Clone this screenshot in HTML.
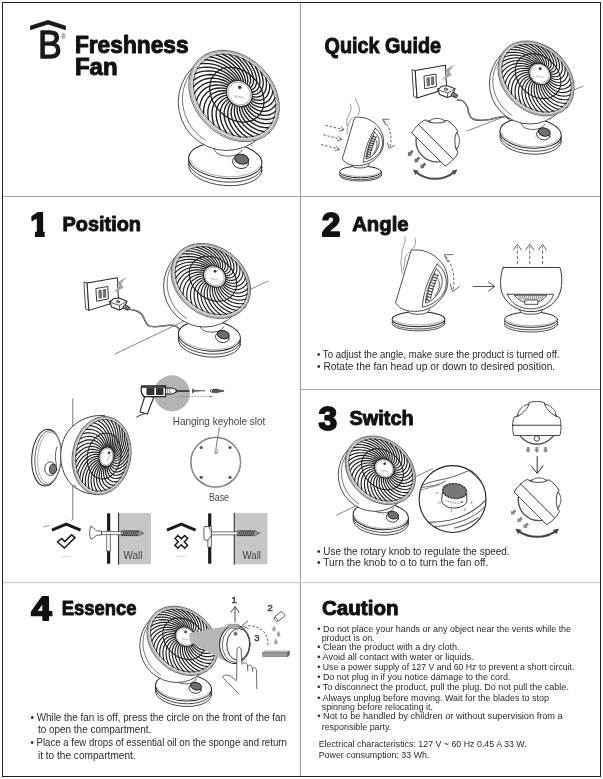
<!DOCTYPE html>
<html><head><meta charset="utf-8"><title>Freshness Fan Quick Guide</title>
<style>
html,body{margin:0;padding:0;background:#fff;}
body{width:603px;height:779px;overflow:hidden;font-family:"Liberation Sans",sans-serif;}
svg{display:block;will-change:transform;}
text{font-family:"Liberation Sans",sans-serif;}
.b{fill:#2a2a2a;}
.g{fill:#444;}
.h{font-weight:bold;fill:#111;stroke:#111;stroke-width:1.0px;stroke-linejoin:round;}
.n{font-weight:bold;fill:#111;stroke:#111;stroke-width:1.8px;stroke-linejoin:round;}
.ln{fill:none;stroke:#222;stroke-width:0.8;stroke-linecap:round;stroke-linejoin:round}
</style></head><body>
<svg width="603" height="779" viewBox="0 0 603 779">
<rect x="2.5" y="2.5" width="598" height="774" fill="#fff" stroke="#222" stroke-width="1"/>
<path d="M3 196.5H600" stroke="#a6a8ab" stroke-width="1" fill="none"/>
<path d="M300.5 3V776" stroke="#9c9ea1" stroke-width="1.1" fill="none"/>
<path d="M301 389.5H600" stroke="#aaa" stroke-width="1" fill="none"/>
<path d="M3 582.6H600" stroke="#cdcfd1" stroke-width="1.4" fill="none"/>
<g fill="none" stroke="#222" stroke-width="0.8" stroke-linecap="round" stroke-linejoin="round">
<path d="M30.1 25.8 L48.05 20 L65.8 25.8 V30.3 L48.05 24.4 L30.1 30.3 Z" fill="#1a1a1a" stroke="none"/>
<text x="37.9" y="57.9" font-size="39.2" fill="#1a1a1a" stroke="#1a1a1a" stroke-width="1.3" stroke-linejoin="round" textLength="23.8" lengthAdjust="spacingAndGlyphs">B</text>
<text x="61.2" y="38.5" font-size="6.4" fill="#333" stroke="none">®</text>
<g transform="translate(234.1 96.1)" stroke-width="0.8">
<g transform="scale(0.98)" stroke-width="0.82">
<ellipse cx="-9" cy="73" rx="37.5" ry="18.2" transform="rotate(5 -9 73)" fill="#fff"/>
<ellipse cx="-9" cy="69.4" rx="37.5" ry="18.2" transform="rotate(5 -9 69.4)" fill="#fff"/>
<ellipse cx="-9" cy="65.8" rx="37.5" ry="18.2" transform="rotate(5 -9 65.8)" fill="#fff" stroke-width="1.02"/>
<path d="M25.67 71.43 L24.82 72.87 L23.67 74.24 L22.24 75.54 L20.54 76.75 L18.58 77.86 L16.39 78.87 L13.97 79.76 L11.36 80.53 L8.57 81.17 L5.62 81.67 L2.55 82.03 L-0.62 82.25 L-3.86 82.33 L-7.14 82.25 L-10.45 82.04 L-13.74 81.68 L-16.99 81.18 L-20.17 80.54 L-23.25 79.77 L-26.21 78.89 L-29.02 77.88 L-31.66 76.77 L-34.1 75.56 L-36.32 74.26 L-38.31 72.89 L-40.04 71.45 L-41.51 69.96 L-42.69 68.43 L-43.58 66.88 L-44.18 65.32" stroke="#999"/>
<path d="M-21 52 C-20 57 -17 60 -10 61 C-2 62 6 60 8 55" stroke="#333" transform="translate(0 0)"/>
<circle cx="-7.5" cy="6" r="49.5" fill="#fff"/>
<path d="M-29.44 44.98 L-32.42 42.91 L-35.25 40.63 L-37.91 38.15 L-40.39 35.49 L-42.67 32.65 L-44.74 29.67 L-46.6 26.55 L-48.22 23.31 L-49.6 19.97 L-50.73 16.55 L-51.61 13.06 L-52.23 9.54 L-52.59 5.99 L-52.68 2.44 L-52.5 -1.1 L-52.06 -4.59 L-51.36 -8.04 L-50.4 -11.4 L-49.19 -14.67 L-47.73 -17.82 L-46.03 -20.85 L-44.11 -23.72 L-41.96 -26.44 L-39.62 -28.97 L-37.08 -31.31 L-34.36 -33.44 L-31.48 -35.35 L-28.46 -37.03 L-25.3 -38.47 L-22.03 -39.66 L-18.67 -40.6 L-15.24 -41.28 L-11.75 -41.7 L-8.23 -41.85 L-4.69 -41.74 L-1.15 -41.36 L2.36 -40.71 L5.82 -39.81 L9.22 -38.65 L12.54 -37.24 L15.76 -35.59 L18.86 -33.71 L21.82 -31.61 L24.63 -29.3 L27.26 -26.79 L29.72 -24.1 L31.97 -21.25 L34.02 -18.24 L35.84 -15.1 L37.43 -11.85" stroke="#555"/>
<ellipse cx="6.5" cy="67.6" rx="8.3" ry="6.2" transform="rotate(15 6.5 67.6)" fill="#fff"/>
<ellipse cx="7.7" cy="64.4" rx="7.3" ry="4.9" transform="rotate(15 7.7 64.4)" fill="#6e6e6e" stroke="#222" stroke-width="1.02"/>
<circle cx="-5" cy="63.7" r="0.5" fill="#666" stroke="none"/>
<circle cx="-3.5" cy="70.4" r="0.5" fill="#666" stroke="none"/>
<circle cx="3.2" cy="77.1" r="0.5" fill="#666" stroke="none"/>
<circle cx="12.2" cy="77.1" r="0.5" fill="#666" stroke="none"/>
<circle cx="16.7" cy="72.6" r="0.5" fill="#666" stroke="none"/>
<circle cx="17.5" cy="50.3" r="0.6" fill="#444" stroke="none"/>
</g>
<ellipse cx="0" cy="0" rx="51" ry="39.5" transform="rotate(46 0 0)" fill="#fff" stroke="#333" stroke-width="0.7"/>
<ellipse cx="0" cy="0" rx="49.82" ry="38.32" transform="rotate(46 0 0)" fill="#d2d2d2" stroke="#666" stroke-width="0.5"/>
<ellipse cx="0.59" cy="-0.39" rx="46.68" ry="35.38" transform="rotate(46 0.59 -0.39)" fill="#fff" stroke="#333" stroke-width="0.7"/>
<path d="M14.87 7.47 L16.86 9.8 L19.21 11.77 L21.82 13.35 L24.63 14.51 L27.6 15.16 L30.65 15.24 L33.69 14.69 L36.64 13.44 L39.36 11.44 L41.75 8.65M13.31 8.71 L15.05 11.34 L17.21 13.67 L19.69 15.68 L22.47 17.32 L25.49 18.51 L28.69 19.19 L32 19.27 L35.32 18.67 L38.55 17.34 L41.56 15.21M11.53 9.65 L12.95 12.51 L14.84 15.14 L17.13 17.53 L19.78 19.61 L22.76 21.32 L26.01 22.57 L29.48 23.29 L33.08 23.37 L36.71 22.75 L40.25 21.35M9.58 10.25 L10.62 13.27 L12.19 16.15 L14.2 18.85 L16.64 21.33 L19.48 23.51 L22.69 25.31 L26.21 26.65 L29.97 27.41 L33.89 27.53 L37.86 26.89M7.5 10.5 L8.13 13.61 L9.32 16.66 L10.99 19.61 L13.13 22.42 L15.75 25.02 L18.81 27.33 L22.27 29.25 L26.09 30.69 L30.18 31.53 L34.45 31.69M5.37 10.4 L5.55 13.52 L6.3 16.65 L7.57 19.78 L9.35 22.86 L11.66 25.81 L14.47 28.57 L17.78 31.03 L21.53 33.1 L25.67 34.67 L30.12 35.62M3.22 9.94 L2.93 13 L3.23 16.14 L4.04 19.37 L5.4 22.63 L7.32 25.86 L9.81 29 L12.85 31.94 L16.43 34.59 L20.5 36.84 L24.99 38.56M1.14 9.15 L0.37 12.05 L0.18 15.13 L0.51 18.37 L1.39 21.74 L2.86 25.17 L4.94 28.6 L7.62 31.95 L10.92 35.11 L14.78 37.98 L19.18 40.44M-0.84 8.03 L-2.08 10.72 L-2.77 13.66 L-2.94 16.83 L-2.57 20.21 L-1.6 23.75 L0 27.39 L2.24 31.06 L5.14 34.66 L8.7 38.08 L12.87 41.21M-2.65 6.63 L-4.35 9.03 L-5.52 11.75 L-6.21 14.78 L-6.37 18.08 L-5.94 21.64 L-4.88 25.4 L-3.15 29.3 L-0.73 33.24 L2.4 37.12 L6.23 40.84M-4.25 4.97 L-6.37 7.04 L-8.02 9.47 L-9.22 12.27 L-9.91 15.42 L-10.05 18.91 L-9.57 22.69 L-8.41 26.71 L-6.55 30.89 L-3.94 35.14 L-0.57 39.34M-5.59 3.11 L-8.09 4.79 L-10.18 6.88 L-11.87 9.38 L-13.1 12.3 L-13.81 15.62 L-13.93 19.32 L-13.39 23.36 L-12.14 27.67 L-10.14 32.18 L-7.34 36.77M-6.63 1.1 L-9.47 2.35 L-11.95 4.04 L-14.1 6.18 L-15.84 8.79 L-17.12 11.87 L-17.85 15.4 L-17.95 19.35 L-17.37 23.68 L-16.03 28.32 L-13.89 33.18M-7.36 -1.01 L-10.46 -0.22 L-13.28 1.03 L-15.84 2.77 L-18.07 5 L-19.88 7.76 L-21.22 11.02 L-21.98 14.79 L-22.09 19.03 L-21.46 23.68 L-20.04 28.67M-7.74 -3.17 L-11.04 -2.85 L-14.14 -2.05 L-17.06 -0.77 L-19.71 1.04 L-22.03 3.39 L-23.94 6.31 L-25.35 9.8 L-26.16 13.83 L-26.28 18.37 L-25.64 23.37M-7.77 -5.31 L-11.19 -5.46 L-14.51 -5.14 L-17.7 -4.34 L-20.73 -3 L-23.51 -1.1 L-25.96 1.4 L-27.98 4.51 L-29.48 8.23 L-30.36 12.55 L-30.51 17.42M-7.44 -7.37 L-10.91 -7.98 L-14.36 -8.14 L-17.77 -7.84 L-21.1 -7.01 L-24.27 -5.6 L-27.2 -3.59 L-29.8 -0.93 L-31.96 2.39 L-33.58 6.37 L-34.54 10.99M-6.77 -9.3 L-10.21 -10.35 L-13.71 -10.98 L-17.25 -11.17 L-20.8 -10.86 L-24.29 -9.99 L-27.64 -8.51 L-30.75 -6.37 L-33.52 -3.54 L-35.85 0 L-37.61 4.25M-5.77 -11.05 L-9.1 -12.49 L-12.57 -13.58 L-16.17 -14.25 L-19.85 -14.46 L-23.58 -14.14 L-27.26 -13.23 L-30.81 -11.66 L-34.14 -9.39 L-37.12 -6.39 L-39.64 -2.62M-4.48 -12.57 L-7.62 -14.36 L-10.98 -15.85 L-14.54 -16.99 L-18.28 -17.72 L-22.14 -17.95 L-26.07 -17.62 L-29.98 -16.66 L-33.78 -15.01 L-37.35 -12.62 L-40.57 -9.43M-2.92 -13.81 L-5.81 -15.9 L-8.98 -17.76 L-12.42 -19.32 L-16.12 -20.53 L-20.03 -21.3 L-24.12 -21.56 L-28.29 -21.23 L-32.46 -20.24 L-36.54 -18.52 L-40.38 -16M-1.13 -14.75 L-3.71 -17.07 L-6.61 -19.23 L-9.86 -21.17 L-13.43 -22.82 L-17.3 -24.11 L-21.44 -24.95 L-25.77 -25.26 L-30.22 -24.94 L-34.7 -23.93 L-39.07 -22.13M0.82 -15.35 L-1.39 -17.83 L-3.96 -20.23 L-6.93 -22.49 L-10.29 -24.54 L-14.02 -26.3 L-18.11 -27.69 L-22.5 -28.62 L-27.12 -28.98 L-31.88 -28.7 L-36.68 -27.68M2.89 -15.6 L1.1 -18.17 L-1.09 -20.74 L-3.71 -23.25 L-6.78 -25.63 L-10.29 -27.81 L-14.23 -29.71 L-18.56 -31.22 L-23.23 -32.26 L-28.17 -32.71 L-33.28 -32.48M5.03 -15.5 L3.69 -18.08 L1.93 -20.74 L-0.29 -23.42 L-3 -26.07 L-6.2 -28.6 L-9.9 -30.94 L-14.07 -33 L-18.68 -34.67 L-23.66 -35.84 L-28.95 -36.4M7.17 -15.04 L6.3 -17.55 L5 -20.23 L3.23 -23.01 L0.95 -25.84 L-1.87 -28.65 L-5.23 -31.37 L-9.14 -33.91 L-13.57 -36.16 L-18.48 -38.01 L-23.81 -39.34M9.26 -14.25 L8.87 -16.61 L8.05 -19.22 L6.77 -22.01 L4.96 -24.94 L2.59 -27.96 L-0.36 -30.98 L-3.92 -33.92 L-8.06 -36.68 L-12.77 -39.16 L-18.01 -41.22M11.24 -13.13 L11.31 -15.28 L11 -17.74 L10.22 -20.47 L8.92 -23.42 L7.05 -26.54 L4.58 -29.77 L1.47 -33.03 L-2.29 -36.23 L-6.69 -39.26 L-11.7 -41.99M13.05 -11.73 L13.58 -13.59 L13.75 -15.84 L13.49 -18.42 L12.72 -21.29 L11.4 -24.43 L9.46 -27.78 L6.86 -31.27 L3.59 -34.81 L-0.39 -38.3 L-5.05 -41.62M14.65 -10.07 L15.6 -11.6 L16.25 -13.56 L16.49 -15.91 L16.27 -18.63 L15.51 -21.7 L14.14 -25.06 L12.12 -28.68 L9.4 -32.46 L5.95 -36.31 L1.75 -40.13M15.99 -8.21 L17.33 -9.35 L18.41 -10.96 L19.14 -13.02 L19.45 -15.51 L19.26 -18.41 L18.5 -21.7 L17.1 -25.33 L15 -29.24 L12.15 -33.35 L8.51 -37.55M17.03 -6.2 L18.7 -6.9 L20.18 -8.13 L21.37 -9.82 L22.2 -12 L22.57 -14.66 L22.42 -17.77 L21.66 -21.32 L20.23 -25.25 L18.04 -29.5 L15.06 -33.96M17.75 -4.09 L19.69 -4.33 L21.52 -5.12 L23.12 -6.41 L24.42 -8.21 L25.34 -10.54 L25.79 -13.4 L25.68 -16.76 L24.94 -20.6 L23.47 -24.85 L21.22 -29.45M18.13 -1.93 L20.27 -1.71 L22.37 -2.03 L24.33 -2.87 L26.06 -4.24 L27.49 -6.18 L28.52 -8.69 L29.06 -11.77 L29.01 -15.4 L28.29 -19.55 L26.81 -24.15M18.16 0.21 L20.43 0.9 L22.74 1.06 L24.98 0.7 L27.08 -0.2 L28.96 -1.69 L30.53 -3.77 L31.69 -6.48 L32.33 -9.8 L32.37 -13.73 L31.69 -18.21M17.84 2.27 L20.15 3.42 L22.59 4.06 L25.05 4.2 L27.45 3.8 L29.72 2.82 L31.77 1.21 L33.5 -1.04 L34.81 -3.96 L35.59 -7.54 L35.72 -11.77M17.17 4.2 L19.45 5.79 L21.94 6.9 L24.53 7.53 L27.16 7.65 L29.75 7.2 L32.21 6.13 L34.46 4.4 L36.38 1.97 L37.86 -1.17 L38.79 -5.03M16.17 5.95 L18.34 7.94 L20.8 9.49 L23.44 10.61 L26.21 11.26 L29.03 11.36 L31.83 10.85 L34.52 9.69 L36.99 7.82 L39.13 5.21 L40.82 1.84" stroke="#1e1e1e" stroke-width="1.37"/>
<ellipse cx="2.73" cy="-1.39" rx="30.31" ry="23.72" transform="rotate(46 2.73 -1.39)" stroke-width="1.27"/>
<ellipse cx="5.2" cy="-2.55" rx="13.93" ry="12.06" transform="rotate(46 5.2 -2.55)" fill="#fff" stroke-width="1.1"/>
<ellipse cx="5.2" cy="-2.55" rx="12.16" ry="10.49" transform="rotate(46 5.2 -2.55)" fill="#fff" stroke="#777" stroke-width="0.6"/>
<circle cx="5.69" cy="-8.73" r="1.77" fill="#3a3a3a" stroke="none"/>
<path d="M0.69 0.78q0.56 -1.77 1.13 0q0.56 1.77 1.13 0q0.56 -1.77 1.13 0q0.56 1.77 1.13 0q0.56 -1.77 1.13 0q0.56 1.77 1.13 0q0.56 -1.77 1.13 0q0.56 1.77 1.13 0" fill="none" stroke="#888" stroke-width="0.49" transform="rotate(8 5.2 -2.55)"/>
</g>
<path d="M467 131 L583 86.3" stroke="#555" stroke-width="0.7"/>
<g transform="translate(398.1 52.6) scale(0.19900)" stroke-width="4.02">
<path d="M72 86 L86 90 L95 228 L80 221 Z" fill="#fff"/>
<path d="M86 90 L238 64 L244 182 L95 228 Z" fill="#fff" stroke-width="5.03"/>
<path d="M132 118 L190 108 L193 170 L136 182 Z" fill="#fff" stroke-width="4.52"/>
<path d="M146 128 L156 126 L158 164 L148 166 Z M168 124 L178 122 L180 160 L170 162 Z" fill="#777" stroke="#222" stroke-width="3.02"/>
<path d="M286 60 L236 88 L249 104 L219 139 L269 114 L257 92 Z" fill="#a4a4a8" stroke="none"/>
<path d="M196 184 L212 178 M199 196 L212 192" stroke="#222" stroke-width="5.03"/>
<path d="M201 188 L218 169 L247 166 L286 182 L280 197 L266 219 L247 226 L209 211 Z" fill="#fff" stroke-width="5.03"/>
<path d="M201 188 L250 203 L286 182 M250 203 L247 226" stroke="#333"/>
<ellipse cx="241" cy="184" rx="9" ry="5.5" transform="rotate(8 241 184)" fill="#fff" stroke="#333"/>
<ellipse cx="241" cy="184" rx="4" ry="2.4" transform="rotate(8 241 184)" fill="#fff" stroke="#555" stroke-width="2.51"/>
<path d="M277 199 L301 215 L292 228 L267 216 Z" fill="#bbb" stroke-width="4.52"/>
<path d="M283 203 L274 219 M289 207 L280 223 M295 211 L286 226" stroke="#333"/>
<path d="M298.48 237.18C303.09 238.19 317.75 236.93 326.12 243.21C334.5 249.49 343.71 263.98 348.73 274.87C353.76 285.75 351.67 298.74 356.27 308.54C360.88 318.33 367.16 328.47 376.37 333.66C385.58 338.85 397.31 339.27 411.55 339.69C425.78 340.11 446.72 338.43 461.8 336.17C476.87 333.91 489.43 328.64 502 326.12C514.56 323.61 527.96 319.84 537.17 321.1C546.38 322.35 553.92 331.57 557.27 333.66" stroke="#333" stroke-width="7.54"/>
<path d="M298.48 237.18C303.09 238.19 317.75 236.93 326.12 243.21C334.5 249.49 343.71 263.98 348.73 274.87C353.76 285.75 351.67 298.74 356.27 308.54C360.88 318.33 367.16 328.47 376.37 333.66C385.58 338.85 397.31 339.27 411.55 339.69C425.78 340.11 446.72 338.43 461.8 336.17C476.87 333.91 489.43 328.64 502 326.12C514.56 323.61 527.96 319.84 537.17 321.1C546.38 322.35 553.92 331.57 557.27 333.66" stroke="#ddd" stroke-width="2.51"/>
</g>
<g transform="translate(536.1 78.5)" stroke-width="0.8">
<g transform="scale(0.82)" stroke-width="0.98">
<ellipse cx="-6.7" cy="73.9" rx="37.5" ry="18.2" transform="rotate(5 -6.7 73.9)" fill="#fff"/>
<ellipse cx="-6.7" cy="70.3" rx="37.5" ry="18.2" transform="rotate(5 -6.7 70.3)" fill="#fff"/>
<ellipse cx="-6.7" cy="66.7" rx="37.5" ry="18.2" transform="rotate(5 -6.7 66.7)" fill="#fff" stroke-width="1.22"/>
<path d="M27.97 72.33 L27.12 73.77 L25.97 75.14 L24.54 76.44 L22.84 77.65 L20.88 78.76 L18.69 79.77 L16.27 80.66 L13.66 81.43 L10.87 82.07 L7.92 82.57 L4.85 82.93 L1.68 83.15 L-1.56 83.23 L-4.84 83.15 L-8.15 82.94 L-11.44 82.58 L-14.69 82.08 L-17.87 81.44 L-20.95 80.67 L-23.91 79.79 L-26.72 78.78 L-29.36 77.67 L-31.8 76.46 L-34.02 75.16 L-36.01 73.79 L-37.74 72.35 L-39.21 70.86 L-40.39 69.33 L-41.28 67.78 L-41.88 66.22" stroke="#999"/>
<path d="M-21 52 C-20 57 -17 60 -10 61 C-2 62 6 60 8 55" stroke="#333" transform="translate(2.3 0.9)"/>
<circle cx="-7.5" cy="6" r="49.5" fill="#fff"/>
<path d="M-29.44 44.98 L-32.42 42.91 L-35.25 40.63 L-37.91 38.15 L-40.39 35.49 L-42.67 32.65 L-44.74 29.67 L-46.6 26.55 L-48.22 23.31 L-49.6 19.97 L-50.73 16.55 L-51.61 13.06 L-52.23 9.54 L-52.59 5.99 L-52.68 2.44 L-52.5 -1.1 L-52.06 -4.59 L-51.36 -8.04 L-50.4 -11.4 L-49.19 -14.67 L-47.73 -17.82 L-46.03 -20.85 L-44.11 -23.72 L-41.96 -26.44 L-39.62 -28.97 L-37.08 -31.31 L-34.36 -33.44 L-31.48 -35.35 L-28.46 -37.03 L-25.3 -38.47 L-22.03 -39.66 L-18.67 -40.6 L-15.24 -41.28 L-11.75 -41.7 L-8.23 -41.85 L-4.69 -41.74 L-1.15 -41.36 L2.36 -40.71 L5.82 -39.81 L9.22 -38.65 L12.54 -37.24 L15.76 -35.59 L18.86 -33.71 L21.82 -31.61 L24.63 -29.3 L27.26 -26.79 L29.72 -24.1 L31.97 -21.25 L34.02 -18.24 L35.84 -15.1 L37.43 -11.85" stroke="#555"/>
<ellipse cx="8.8" cy="68.5" rx="8.3" ry="6.2" transform="rotate(15 8.8 68.5)" fill="#fff"/>
<ellipse cx="10" cy="65.3" rx="7.3" ry="4.9" transform="rotate(15 10 65.3)" fill="#6e6e6e" stroke="#222" stroke-width="1.22"/>
<circle cx="-2.7" cy="64.6" r="0.5" fill="#666" stroke="none"/>
<circle cx="-1.2" cy="71.3" r="0.5" fill="#666" stroke="none"/>
<circle cx="5.5" cy="78" r="0.5" fill="#666" stroke="none"/>
<circle cx="14.5" cy="78" r="0.5" fill="#666" stroke="none"/>
<circle cx="19" cy="73.5" r="0.5" fill="#666" stroke="none"/>
<circle cx="17.5" cy="50.3" r="0.6" fill="#444" stroke="none"/>
</g>
<ellipse cx="0" cy="0" rx="42.5" ry="32.6" transform="rotate(43 0 0)" fill="#fff" stroke="#333" stroke-width="0.7"/>
<ellipse cx="0" cy="0" rx="41.52" ry="31.62" transform="rotate(43 0 0)" fill="#d2d2d2" stroke="#666" stroke-width="0.5"/>
<ellipse cx="0.49" cy="-0.33" rx="38.9" ry="29.17" transform="rotate(43 0.49 -0.33)" fill="#fff" stroke="#333" stroke-width="0.7"/>
<path d="M12.17 3.34 L13.99 5.48 L16.09 7.26 L18.38 8.71 L20.82 9.78 L23.36 10.42 L25.94 10.59 L28.48 10.23 L30.9 9.3 L33.11 7.75 L35 5.55M10.92 4.44 L12.55 6.84 L14.51 8.92 L16.73 10.72 L19.16 12.2 L21.77 13.29 L24.5 13.94 L27.29 14.09 L30.06 13.68 L32.72 12.66 L35.15 10.99M9.48 5.3 L10.86 7.9 L12.62 10.24 L14.69 12.36 L17.04 14.21 L19.64 15.72 L22.44 16.85 L25.4 17.52 L28.43 17.66 L31.45 17.21 L34.36 16.12M7.88 5.88 L8.96 8.63 L10.46 11.19 L12.32 13.58 L14.51 15.76 L17.02 17.67 L19.82 19.25 L22.85 20.43 L26.05 21.13 L29.35 21.28 L32.65 20.81M6.16 6.19 L6.91 9.02 L8.1 11.73 L9.68 14.34 L11.65 16.81 L14 19.07 L16.69 21.08 L19.71 22.74 L22.99 23.99 L26.47 24.74 L30.06 24.91M4.38 6.19 L4.75 9.05 L5.59 11.85 L6.85 14.62 L8.54 17.32 L10.64 19.89 L13.16 22.28 L16.07 24.39 L19.33 26.17 L22.89 27.51 L26.66 28.33M2.58 5.91 L2.56 8.72 L3.02 11.56 L3.91 14.42 L5.25 17.29 L7.05 20.11 L9.32 22.81 L12.03 25.34 L15.17 27.6 L18.7 29.51 L22.55 30.96M0.81 5.34 L0.39 8.05 L0.44 10.85 L0.93 13.74 L1.89 16.71 L3.33 19.71 L5.26 22.68 L7.7 25.55 L10.63 28.25 L14.03 30.68 L17.84 32.74M-0.88 4.49 L-1.71 7.05 L-2.07 9.74 L-2 12.6 L-1.47 15.6 L-0.44 18.71 L1.11 21.88 L3.2 25.03 L5.83 28.1 L8.99 31 L12.65 33.62M-2.45 3.4 L-3.67 5.74 L-4.45 8.28 L-4.81 11.03 L-4.72 14 L-4.14 17.14 L-3.02 20.42 L-1.35 23.78 L0.9 27.15 L3.73 30.45 L7.13 33.58M-3.86 2.1 L-5.44 4.17 L-6.62 6.49 L-7.42 9.08 L-7.79 11.93 L-7.67 15.04 L-7.03 18.36 L-5.83 21.85 L-4.03 25.44 L-1.61 29.05 L1.43 32.61M-5.05 0.61 L-6.97 2.37 L-8.53 4.42 L-9.75 6.79 L-10.57 9.47 L-10.94 12.47 L-10.81 15.75 L-10.11 19.27 L-8.82 23 L-6.88 26.85 L-4.29 30.74M-6.01 -1.02 L-8.22 0.4 L-10.14 2.14 L-11.75 4.23 L-13.01 6.68 L-13.86 9.49 L-14.24 12.65 L-14.08 16.13 L-13.33 19.9 L-11.95 23.88 L-9.89 28.02M-6.7 -2.75 L-9.16 -1.69 L-11.38 -0.3 L-13.35 1.47 L-15.03 3.63 L-16.35 6.19 L-17.23 9.16 L-17.63 12.51 L-17.46 16.23 L-16.67 20.25 L-15.2 24.53M-7.11 -4.53 L-9.76 -3.85 L-12.23 -2.83 L-14.52 -1.42 L-16.58 0.4 L-18.33 2.66 L-19.72 5.36 L-20.66 8.51 L-21.08 12.08 L-20.91 16.05 L-20.08 20.36M-7.23 -6.31 L-10 -6.01 L-12.67 -5.38 L-15.23 -4.35 L-17.61 -2.91 L-19.76 -1.01 L-21.62 1.37 L-23.09 4.23 L-24.1 7.58 L-24.56 11.39 L-24.4 15.63M-7.05 -8.04 L-9.88 -8.12 L-12.69 -7.88 L-15.44 -7.25 L-18.1 -6.21 L-20.6 -4.71 L-22.88 -2.71 L-24.85 -0.2 L-26.43 2.84 L-27.52 6.4 L-28.05 10.46M-6.58 -9.68 L-9.41 -10.12 L-12.28 -10.26 L-15.17 -10.04 L-18.04 -9.42 L-20.83 -8.34 L-23.47 -6.77 L-25.9 -4.66 L-28.01 -2.01 L-29.71 1.21 L-30.91 5M-5.82 -11.17 L-8.58 -11.95 L-11.45 -12.46 L-14.41 -12.64 L-17.42 -12.44 L-20.43 -11.81 L-23.38 -10.69 L-26.2 -9.04 L-28.79 -6.83 L-31.07 -4.02 L-32.92 -0.61M-4.81 -12.49 L-7.44 -13.56 L-10.23 -14.42 L-13.18 -14.98 L-16.26 -15.2 L-19.42 -15.02 L-22.61 -14.38 L-25.75 -13.22 L-28.76 -11.5 L-31.55 -9.17 L-34.02 -6.21M-3.57 -13.59 L-6 -14.92 L-8.65 -16.08 L-11.53 -17 L-14.6 -17.62 L-17.83 -17.89 L-21.17 -17.72 L-24.56 -17.07 L-27.92 -15.88 L-31.16 -14.09 L-34.17 -11.65M-2.12 -14.45 L-4.31 -15.98 L-6.76 -17.4 L-9.49 -18.64 L-12.47 -19.64 L-15.7 -20.32 L-19.11 -20.64 L-22.67 -20.5 L-26.29 -19.86 L-29.89 -18.64 L-33.38 -16.78M-0.52 -15.04 L-2.41 -16.71 L-4.6 -18.35 L-7.12 -19.86 L-9.95 -21.19 L-13.08 -22.27 L-16.49 -23.04 L-20.12 -23.42 L-23.91 -23.33 L-27.79 -22.7 L-31.67 -21.46M1.19 -15.34 L-0.35 -17.1 L-2.24 -18.89 L-4.48 -20.62 L-7.09 -22.23 L-10.06 -23.67 L-13.36 -24.86 L-16.98 -25.73 L-20.85 -26.19 L-24.91 -26.16 L-29.08 -25.56M2.97 -15.35 L1.8 -17.13 L0.26 -19.01 L-1.66 -20.9 L-3.98 -22.75 L-6.7 -24.49 L-9.83 -26.06 L-13.34 -27.38 L-17.19 -28.37 L-21.33 -28.93 L-25.68 -28.98M4.78 -15.06 L3.99 -16.81 L2.84 -18.71 L1.29 -20.7 L-0.69 -22.72 L-3.11 -24.71 L-5.99 -26.6 L-9.3 -28.33 L-13.03 -29.8 L-17.14 -30.93 L-21.57 -31.62M6.55 -14.49 L6.17 -16.13 L5.42 -18 L4.27 -20.02 L2.68 -22.14 L0.61 -24.31 L-1.93 -26.47 L-4.97 -28.54 L-8.49 -30.45 L-12.47 -32.1 L-16.86 -33.4M8.24 -13.65 L8.26 -15.13 L7.93 -16.9 L7.2 -18.88 L6.03 -21.03 L4.38 -23.31 L2.22 -25.66 L-0.47 -28.02 L-3.69 -30.3 L-7.43 -32.42 L-11.67 -34.28M9.81 -12.56 L10.22 -13.82 L10.31 -15.43 L10.01 -17.31 L9.28 -19.42 L8.08 -21.74 L6.36 -24.21 L4.08 -26.77 L1.24 -29.36 L-2.17 -31.87 L-6.15 -34.23M11.21 -11.25 L11.99 -12.25 L12.48 -13.64 L12.62 -15.36 L12.35 -17.36 L11.61 -19.64 L10.36 -22.15 L8.56 -24.83 L6.17 -27.64 L3.17 -30.48 L-0.45 -33.26M12.41 -9.76 L13.52 -10.45 L14.39 -11.58 L14.95 -13.07 L15.13 -14.9 L14.88 -17.06 L14.14 -19.53 L12.84 -22.26 L10.96 -25.2 L8.44 -28.27 L5.27 -31.39M13.37 -8.13 L14.77 -8.48 L15.99 -9.3 L16.95 -10.51 L17.57 -12.1 L17.8 -14.09 L17.57 -16.44 L16.81 -19.12 L15.48 -22.1 L13.51 -25.31 L10.87 -28.67M14.06 -6.4 L15.71 -6.39 L17.24 -6.86 L18.55 -7.74 L19.59 -9.05 L20.29 -10.79 L20.56 -12.94 L20.36 -15.5 L19.6 -18.43 L18.23 -21.68 L16.18 -25.18M14.47 -4.63 L16.31 -4.23 L18.09 -4.33 L19.72 -4.86 L21.14 -5.83 L22.27 -7.26 L23.05 -9.15 L23.39 -11.5 L23.22 -14.28 L22.47 -17.47 L21.06 -21.01M14.59 -2.85 L16.56 -2.07 L18.53 -1.78 L20.42 -1.92 L22.17 -2.52 L23.7 -3.59 L24.95 -5.16 L25.82 -7.22 L26.24 -9.78 L26.12 -12.81 L25.38 -16.28M14.41 -1.12 L16.44 0.04 L18.55 0.72 L20.64 0.98 L22.66 0.78 L24.54 0.11 L26.21 -1.08 L27.58 -2.79 L28.57 -5.04 L29.08 -7.82 L29.03 -11.11M13.93 0.52 L15.96 2.03 L18.13 3.1 L20.36 3.76 L22.6 3.99 L24.77 3.74 L26.8 2.98 L28.63 1.68 L30.15 -0.19 L31.27 -2.64 L31.89 -5.65M13.18 2.02 L15.14 3.86 L17.31 5.3 L19.6 6.36 L21.98 7.02 L24.37 7.21 L26.71 6.91 L28.93 6.06 L30.93 4.63 L32.62 2.6 L33.9 -0.04" stroke="#1e1e1e" stroke-width="1.17"/>
<ellipse cx="1.97" cy="-2.3" rx="25.25" ry="19.61" transform="rotate(43 1.97 -2.3)" stroke-width="1.06"/>
<ellipse cx="3.68" cy="-4.58" rx="11.61" ry="10.05" transform="rotate(43 3.68 -4.58)" fill="#fff" stroke-width="1.1"/>
<ellipse cx="3.68" cy="-4.58" rx="10.13" ry="8.75" transform="rotate(43 3.68 -4.58)" fill="#fff" stroke="#777" stroke-width="0.6"/>
<circle cx="4.09" cy="-9.73" r="1.47" fill="#3a3a3a" stroke="none"/>
<path d="M-0.08 -1.8q0.47 -1.47 0.94 0q0.47 1.47 0.94 0q0.47 -1.47 0.94 0q0.47 1.47 0.94 0q0.47 -1.47 0.94 0q0.47 1.47 0.94 0q0.47 -1.47 0.94 0q0.47 1.47 0.94 0" fill="none" stroke="#888" stroke-width="0.41" transform="rotate(8 3.68 -4.58)"/>
</g>
<g transform="translate(315 90) scale(0.14925)" stroke-width="5.36">
<path d="M70 237L187 264" fill="none" stroke="#444" stroke-width="5.36" stroke-dasharray="17.42 10.72" stroke-linecap="butt"/>
<path d="M166.3 274.74L195 266L173.08 245.52" stroke="#444" stroke-width="5.36"/>
<path d="M55 300L172 329" fill="none" stroke="#444" stroke-width="5.36" stroke-dasharray="17.42 10.72" stroke-linecap="butt"/>
<path d="M151.17 339.31L180 331L158.39 310.19" stroke="#444" stroke-width="5.36"/>
<path d="M40 365L157 396" fill="none" stroke="#444" stroke-width="5.36" stroke-dasharray="17.42 10.72" stroke-linecap="butt"/>
<path d="M136.05 405.87L165 398L143.71 376.87" stroke="#444" stroke-width="5.36"/>
</g>
<g transform="translate(360.5 172.8) scale(0.13101) translate(-232 -545)" stroke-width="6.11">
<ellipse cx="232" cy="563" rx="159" ry="45" fill="#fff"/>
<ellipse cx="232" cy="552" rx="159" ry="45" fill="#fff"/>
<ellipse cx="232" cy="538" rx="159" ry="45" fill="#fff" stroke-width="7.63"/>
<path d="M88 545 A150 38 0 0 0 376 545" stroke="#999"/>
<path d="M165 485 C170 500 185 508 232 508 C270 508 290 500 300 478" fill="#fff"/>
<path d="M190 122 C250 112 320 135 370 195 C405 240 418 300 402 355 C385 410 330 460 290 475 C250 492 200 495 160 485 C130 478 105 460 95 440 Z" fill="#fff"/>
<path d="M345 205 C392 240 412 300 392 362 C372 415 312 455 255 465 C258 400 285 295 345 205 Z" fill="#fff"/>
<path d="M340 235 C374 262 384 305 366 352 C350 396 312 430 274 440 C278 385 300 300 340 235 Z" fill="#fff"/>
<path d="M330 262 C300 320 285 380 282 425 M352 270 C330 310 312 370 305 415" stroke="#333"/>
<path d="M328 268L350 274M322.81 284.67L344.59 290.67M317.48 301.33L339.04 307.33M312 318L333.33 324M306.37 334.67L327.48 340.67M300.59 351.33L321.48 357.33M294.67 368L315.33 374M288.59 384.67L309.04 390.67M282.37 401.33L302.59 407.33M276 418L296 424" stroke="#333" stroke-width="8.4"/>
<path d="M352 300 C366 330 356 370 330 398" stroke="#333"/>
</g>
<g transform="translate(315 90) scale(0.14925)" stroke-width="5.36">
<path d="M270 55 C278 85 300 110 298 135 C297 150 292 160 288 168 M236 95 C250 120 238 145 226 168 C214 190 206 215 216 242 M250 186 C236 200 226 215 221 240 C218 258 214 275 216 292" stroke="#555" stroke-width="4.02"/>
<path d="M462 205 C505 250 520 320 502 380" fill="none" stroke="#444" stroke-width="5.36" stroke-dasharray="17.42 10.72" stroke-linecap="butt"/>
<path d="M497 196 L452 196 L472 232" stroke="#444" stroke-width="5.36"/>
<path d="M532 372 L497 392 L484 352" stroke="#444" stroke-width="5.36"/>
</g>
<g transform="translate(437.2 140.7) rotate(45) scale(1.02)" stroke-width="0.78">
<circle cx="0" cy="0" r="20.8" fill="#fff" stroke="#555" stroke-width="1.37"/>
<path d="M-18.9 -7.9 C-19.5 -13 -13 -19.5 -7.9 -18.9" fill="#fff" stroke="#444"/>
<path d="M18.9 -7.9 C19.5 -13 13 -19.5 7.9 -18.9" fill="#fff" stroke="#444"/>
<path d="M-24.1 1.8 C-24.3 -1 -23.6 -4 -22.6 -6.3 L-18.3 -7.4 C-13.5 -10.5 -9.6 -14.5 -8.2 -18 L-7.5 -20.9 C-3 -22.3 3 -22.3 7.5 -20.9 L8.2 -18 C9.6 -14.5 13.5 -10.5 18.3 -7.4 L22.6 -6.3 C23.6 -4 24.3 -1 24.1 1.8 Z" fill="#fff"/>
<path d="M-24.1 1.8 H24.1 C24.3 5 24 9 23 12.1 H-23 C-24 9 -24.3 5 -24.1 1.8 Z" fill="#fff"/>
</g>
<path d="M0 -1.35 L3.7 -1.35 L3.7 -2.8 L7.2 0 L3.7 2.8 L3.7 1.35 L0 1.35Z" transform="translate(412.8 150.8) rotate(135)" fill="#707070" stroke="none"/>
<path d="M0 -1.35 L3.7 -1.35 L3.7 -2.8 L7.2 0 L3.7 2.8 L3.7 1.35 L0 1.35Z" transform="translate(419.4 157.4) rotate(135)" fill="#707070" stroke="none"/>
<path d="M0 -1.35 L3.7 -1.35 L3.7 -2.8 L7.2 0 L3.7 2.8 L3.7 1.35 L0 1.35Z" transform="translate(425.4 163.4) rotate(135)" fill="#707070" stroke="none"/>
<path d="M454.64 171.69A30.4 30.4 0 0 1 415.56 171.69" fill="none" stroke="#4d4d4d" stroke-width="2.1" stroke-linecap="butt"/>
<path d="M457.38 169.39 L454.93 175.03 L451.4 170.82Z" fill="#4d4d4d" stroke="none"/>
<path d="M412.82 169.39 L418.8 170.82 L415.27 175.03Z" fill="#4d4d4d" stroke="none"/>
<g transform="translate(418.5 320.4) scale(0.16584) translate(-232 -545)" stroke-width="4.82">
<ellipse cx="232" cy="563" rx="159" ry="45" fill="#fff"/>
<ellipse cx="232" cy="552" rx="159" ry="45" fill="#fff"/>
<ellipse cx="232" cy="538" rx="159" ry="45" fill="#fff" stroke-width="6.03"/>
<path d="M88 545 A150 38 0 0 0 376 545" stroke="#999"/>
<path d="M165 485 C170 500 185 508 232 508 C270 508 290 500 300 478" fill="#fff"/>
<path d="M190 122 C250 112 320 135 370 195 C405 240 418 300 402 355 C385 410 330 460 290 475 C250 492 200 495 160 485 C130 478 105 460 95 440 Z" fill="#fff"/>
<path d="M345 205 C392 240 412 300 392 362 C372 415 312 455 255 465 C258 400 285 295 345 205 Z" fill="#fff"/>
<path d="M340 235 C374 262 384 305 366 352 C350 396 312 430 274 440 C278 385 300 300 340 235 Z" fill="#fff"/>
<path d="M330 262 C300 320 285 380 282 425 M352 270 C330 310 312 370 305 415" stroke="#333"/>
<path d="M328 268L350 274M322.81 284.67L344.59 290.67M317.48 301.33L339.04 307.33M312 318L333.33 324M306.37 334.67L327.48 340.67M300.59 351.33L321.48 357.33M294.67 368L315.33 374M288.59 384.67L309.04 390.67M282.37 401.33L302.59 407.33M276 418L296 424" stroke="#333" stroke-width="6.63"/>
<path d="M352 300 C366 330 356 370 330 398" stroke="#333"/>
<path d="M150 40 C162 80 128 110 132 140 C135 165 120 185 128 215 C132 235 128 250 135 262 M210 48 C222 80 210 105 188 122 M178 132 C160 148 148 160 150 185 C152 205 140 220 142 240" stroke="#555" stroke-width="3.62"/>
</g>
<g transform="translate(380 230) scale(0.16584)" stroke-width="4.82">
<path d="M395 158 C440 210 455 290 440 365" fill="none" stroke="#444" stroke-width="4.82" stroke-dasharray="16.88 10.85" stroke-linecap="butt"/>
<path d="M440 148 L386 150 L410 192" stroke="#444" stroke-width="4.82"/>
<path d="M478 342 L437 372 L424 325" stroke="#444" stroke-width="4.82"/>
</g>
<path d="M473 286.5 H494.5 M488.5 282 L494.8 286.5 L488.5 291" stroke="#444" stroke-width="0.9"/>
<g transform="translate(465 235) scale(0.18242)" stroke-width="4.39">
<ellipse cx="362" cy="490" rx="145" ry="42" fill="#fff"/>
<ellipse cx="362" cy="478" rx="145" ry="42" fill="#fff"/>
<ellipse cx="362" cy="464" rx="145" ry="42" fill="#fff" stroke-width="5.48"/>
<path d="M228 470 A138 36 0 0 0 496 470" stroke="#999"/>
<path d="M300 410 C302 428 320 434 362 434 C404 434 420 428 424 410" fill="#fff"/>
<path d="M210 178 H520 C535 220 535 290 515 330 C490 385 430 420 362 420 C295 420 235 385 208 330 C188 290 192 220 210 178 Z" fill="#fff" stroke-width="4.93"/>
<path d="M232 325 H486 C470 375 420 405 360 405 C300 405 250 375 232 325 Z" fill="#fff"/>
<path d="M272 330 H448 C430 358 400 372 360 372 C320 372 290 358 272 330 Z" fill="#fff"/>
<path d="M290 334 L302.6 352M301.7 334 L312.19 352M313.4 334 L321.79 352M325.1 334 L331.38 352M336.8 334 L340.98 352M348.5 334 L350.57 352M360.2 334 L360.16 352M371.9 334 L369.76 352M383.6 334 L379.35 352M395.3 334 L388.95 352M407 334 L398.54 352M418.7 334 L408.13 352M430.4 334 L417.73 352" stroke="#333" stroke-width="3.29"/>
<path d="M330 356 H400 V380 H330 Z" fill="#fff"/>
<path d="M287 160 V62" fill="none" stroke="#444" stroke-width="4.39" stroke-dasharray="17.54 10.96" stroke-linecap="butt"/>
<path d="M265 82 L287 50 L309 82" stroke="#444" stroke-width="4.39"/>
<path d="M355 160 V62" fill="none" stroke="#444" stroke-width="4.39" stroke-dasharray="17.54 10.96" stroke-linecap="butt"/>
<path d="M333 82 L355 50 L377 82" stroke="#444" stroke-width="4.39"/>
<path d="M425 160 V62" fill="none" stroke="#444" stroke-width="4.39" stroke-dasharray="17.54 10.96" stroke-linecap="butt"/>
<path d="M403 82 L425 50 L447 82" stroke="#444" stroke-width="4.39"/>
</g>
<path d="M115 354 L268 281" stroke="#555" stroke-width="0.7"/>
<g transform="translate(70 265) scale(0.19900)" stroke-width="4.02">
<path d="M72 86 L86 90 L95 228 L80 221 Z" fill="#fff"/>
<path d="M86 90 L238 64 L244 182 L95 228 Z" fill="#fff" stroke-width="5.03"/>
<path d="M132 118 L190 108 L193 170 L136 182 Z" fill="#fff" stroke-width="4.52"/>
<path d="M146 128 L156 126 L158 164 L148 166 Z M168 124 L178 122 L180 160 L170 162 Z" fill="#777" stroke="#222" stroke-width="3.02"/>
<path d="M286 60 L236 88 L249 104 L219 139 L269 114 L257 92 Z" fill="#a4a4a8" stroke="none"/>
<path d="M196 184 L212 178 M199 196 L212 192" stroke="#222" stroke-width="5.03"/>
<path d="M201 188 L218 169 L247 166 L286 182 L280 197 L266 219 L247 226 L209 211 Z" fill="#fff" stroke-width="5.03"/>
<path d="M201 188 L250 203 L286 182 M250 203 L247 226" stroke="#333"/>
<ellipse cx="241" cy="184" rx="9" ry="5.5" transform="rotate(8 241 184)" fill="#fff" stroke="#333"/>
<ellipse cx="241" cy="184" rx="4" ry="2.4" transform="rotate(8 241 184)" fill="#fff" stroke="#555" stroke-width="2.51"/>
<path d="M277 199 L301 215 L292 228 L267 216 Z" fill="#bbb" stroke-width="4.52"/>
<path d="M283 203 L274 219 M289 207 L280 223 M295 211 L286 226" stroke="#333"/>
<path d="M296 222 C320 224 345 228 362 250 C378 272 376 296 396 306 C420 316 460 306 500 303 C525 301 540 308 548 322" stroke="#333" stroke-width="7.54"/>
<path d="M296 222 C320 224 345 228 362 250 C378 272 376 296 396 306 C420 316 460 306 500 303 C525 301 540 308 548 322" stroke="#ddd" stroke-width="2.51"/>
</g>
<g transform="translate(210.9 281)" stroke-width="0.8">
<g transform="scale(0.83)" stroke-width="0.97">
<ellipse cx="-1.8" cy="73.3" rx="37.5" ry="18.2" transform="rotate(5 -1.8 73.3)" fill="#fff"/>
<ellipse cx="-1.8" cy="69.7" rx="37.5" ry="18.2" transform="rotate(5 -1.8 69.7)" fill="#fff"/>
<ellipse cx="-1.8" cy="66.1" rx="37.5" ry="18.2" transform="rotate(5 -1.8 66.1)" fill="#fff" stroke-width="1.21"/>
<path d="M32.87 71.73 L32.02 73.17 L30.87 74.54 L29.44 75.84 L27.74 77.05 L25.78 78.16 L23.59 79.17 L21.17 80.06 L18.56 80.83 L15.77 81.47 L12.82 81.97 L9.75 82.33 L6.58 82.55 L3.34 82.63 L0.06 82.55 L-3.25 82.34 L-6.54 81.98 L-9.79 81.48 L-12.97 80.84 L-16.05 80.07 L-19.01 79.19 L-21.82 78.18 L-24.46 77.07 L-26.9 75.86 L-29.12 74.56 L-31.11 73.19 L-32.84 71.75 L-34.31 70.26 L-35.49 68.73 L-36.38 67.18 L-36.98 65.62" stroke="#999"/>
<path d="M-21 52 C-20 57 -17 60 -10 61 C-2 62 6 60 8 55" stroke="#333" transform="translate(7.2 0.3)"/>
<circle cx="-7.5" cy="6" r="49.5" fill="#fff"/>
<path d="M-29.44 44.98 L-32.42 42.91 L-35.25 40.63 L-37.91 38.15 L-40.39 35.49 L-42.67 32.65 L-44.74 29.67 L-46.6 26.55 L-48.22 23.31 L-49.6 19.97 L-50.73 16.55 L-51.61 13.06 L-52.23 9.54 L-52.59 5.99 L-52.68 2.44 L-52.5 -1.1 L-52.06 -4.59 L-51.36 -8.04 L-50.4 -11.4 L-49.19 -14.67 L-47.73 -17.82 L-46.03 -20.85 L-44.11 -23.72 L-41.96 -26.44 L-39.62 -28.97 L-37.08 -31.31 L-34.36 -33.44 L-31.48 -35.35 L-28.46 -37.03 L-25.3 -38.47 L-22.03 -39.66 L-18.67 -40.6 L-15.24 -41.28 L-11.75 -41.7 L-8.23 -41.85 L-4.69 -41.74 L-1.15 -41.36 L2.36 -40.71 L5.82 -39.81 L9.22 -38.65 L12.54 -37.24 L15.76 -35.59 L18.86 -33.71 L21.82 -31.61 L24.63 -29.3 L27.26 -26.79 L29.72 -24.1 L31.97 -21.25 L34.02 -18.24 L35.84 -15.1 L37.43 -11.85" stroke="#555"/>
<ellipse cx="13.7" cy="67.9" rx="8.3" ry="6.2" transform="rotate(15 13.7 67.9)" fill="#fff"/>
<ellipse cx="14.9" cy="64.7" rx="7.3" ry="4.9" transform="rotate(15 14.9 64.7)" fill="#6e6e6e" stroke="#222" stroke-width="1.21"/>
<circle cx="2.2" cy="64" r="0.5" fill="#666" stroke="none"/>
<circle cx="3.7" cy="70.7" r="0.5" fill="#666" stroke="none"/>
<circle cx="10.4" cy="77.4" r="0.5" fill="#666" stroke="none"/>
<circle cx="19.4" cy="77.4" r="0.5" fill="#666" stroke="none"/>
<circle cx="23.9" cy="72.9" r="0.5" fill="#666" stroke="none"/>
<circle cx="17.5" cy="50.3" r="0.6" fill="#444" stroke="none"/>
</g>
<ellipse cx="0" cy="0" rx="43.1" ry="33.8" transform="rotate(38 0 0)" fill="#fff" stroke="#333" stroke-width="0.7"/>
<ellipse cx="0" cy="0" rx="42.11" ry="32.81" transform="rotate(38 0 0)" fill="#d2d2d2" stroke="#666" stroke-width="0.5"/>
<ellipse cx="0.5" cy="-0.33" rx="39.45" ry="30.32" transform="rotate(38 0.5 -0.33)" fill="#fff" stroke="#333" stroke-width="0.7"/>
<path d="M13 2.77 L14.99 4.72 L17.23 6.28 L19.64 7.47 L22.18 8.27 L24.79 8.63 L27.41 8.49 L29.95 7.81 L32.33 6.55 L34.44 4.68 L36.18 2.18M11.84 3.99 L13.65 6.22 L15.77 8.11 L18.13 9.69 L20.69 10.9 L23.4 11.71 L26.21 12.05 L29.04 11.87 L31.81 11.12 L34.42 9.75 L36.76 7.73M10.46 4.99 L12.02 7.45 L13.96 9.63 L16.19 11.55 L18.69 13.16 L21.42 14.41 L24.34 15.23 L27.38 15.57 L30.45 15.36 L33.48 14.54 L36.35 13.07M8.9 5.72 L10.16 8.37 L11.85 10.8 L13.88 13.02 L16.25 14.99 L18.92 16.66 L21.86 17.95 L25 18.8 L28.3 19.15 L31.65 18.92 L34.96 18.05M7.19 6.18 L8.12 8.95 L9.49 11.57 L11.27 14.05 L13.42 16.34 L15.95 18.39 L18.82 20.12 L21.99 21.48 L25.4 22.39 L28.98 22.76 L32.63 22.52M5.39 6.34 L5.94 9.18 L6.96 11.93 L8.42 14.61 L10.3 17.17 L12.6 19.55 L15.32 21.7 L18.41 23.54 L21.84 24.98 L25.53 25.95 L29.42 26.37M3.55 6.21 L3.69 9.05 L4.32 11.87 L5.41 14.69 L6.95 17.45 L8.96 20.12 L11.44 22.64 L14.37 24.91 L17.71 26.87 L21.42 28.43 L25.43 29.49M1.71 5.79 L1.43 8.57 L1.65 11.39 L2.33 14.28 L3.48 17.19 L5.14 20.09 L7.3 22.9 L9.97 25.57 L13.13 28 L16.74 30.1 L20.75 31.79M-0.08 5.09 L-0.78 7.74 L-0.99 10.51 L-0.75 13.4 L-0.02 16.39 L1.22 19.44 L3.01 22.49 L5.34 25.48 L8.22 28.33 L11.62 30.94 L15.53 33.22M-1.76 4.13 L-2.87 6.6 L-3.52 9.24 L-3.73 12.07 L-3.46 15.07 L-2.67 18.2 L-1.32 21.42 L0.6 24.66 L3.11 27.86 L6.21 30.92 L9.89 33.74M-3.29 2.93 L-4.8 5.17 L-5.88 7.63 L-6.54 10.33 L-6.74 13.26 L-6.43 16.4 L-5.57 19.71 L-4.12 23.13 L-2.05 26.6 L0.66 30.03 L4 33.32M-4.63 1.53 L-6.51 3.49 L-7.99 5.71 L-9.1 8.22 L-9.78 11.02 L-9.97 14.09 L-9.62 17.41 L-8.69 20.93 L-7.12 24.58 L-4.9 28.3 L-1.99 31.99M-5.74 -0.03 L-7.94 1.6 L-9.81 3.54 L-11.34 5.81 L-12.48 8.41 L-13.18 11.34 L-13.36 14.59 L-12.98 18.11 L-11.97 21.87 L-10.3 25.78 L-7.91 29.78M-6.6 -1.71 L-9.07 -0.43 L-11.27 1.18 L-13.2 3.15 L-14.78 5.49 L-15.97 8.22 L-16.69 11.32 L-16.88 14.76 L-16.47 18.52 L-15.39 22.54 L-13.6 26.74M-7.17 -3.47 L-9.86 -2.56 L-12.35 -1.31 L-14.62 0.32 L-16.62 2.36 L-18.28 4.81 L-19.52 7.69 L-20.28 10.97 L-20.48 14.65 L-20.05 18.66 L-18.91 22.97M-7.44 -5.26 L-10.3 -4.73 L-13.01 -3.86 L-15.58 -2.6 L-17.94 -0.92 L-20.03 1.21 L-21.77 3.79 L-23.1 6.84 L-23.91 10.34 L-24.13 14.26 L-23.69 18.56M-7.41 -7.02 L-10.36 -6.88 L-13.24 -6.4 L-16.03 -5.53 L-18.7 -4.24 L-21.18 -2.49 L-23.39 -0.25 L-25.24 2.49 L-26.66 5.72 L-27.54 9.45 L-27.81 13.64M-7.08 -8.72 L-10.04 -8.95 L-13.02 -8.86 L-15.98 -8.4 L-18.9 -7.52 L-21.7 -6.18 L-24.31 -4.34 L-26.66 -1.98 L-28.64 0.92 L-30.17 4.36 L-31.15 8.33M-6.45 -10.3 L-9.37 -10.88 L-12.36 -11.17 L-15.42 -11.12 L-18.51 -10.66 L-21.57 -9.76 L-24.53 -8.36 L-27.31 -6.43 L-29.82 -3.94 L-31.96 -0.87 L-33.63 2.79M-5.54 -11.72 L-8.34 -12.63 L-11.29 -13.28 L-14.37 -13.62 L-17.56 -13.59 L-20.8 -13.14 L-24.03 -12.21 L-27.18 -10.75 L-30.16 -8.72 L-32.86 -6.09 L-35.18 -2.84M-4.39 -12.95 L-7 -14.13 L-9.83 -15.12 L-12.86 -15.83 L-16.06 -16.22 L-19.41 -16.22 L-22.83 -15.77 L-26.27 -14.81 L-29.64 -13.29 L-32.84 -11.16 L-35.76 -8.4M-3 -13.94 L-5.38 -15.36 L-8.02 -16.64 L-10.92 -17.7 L-14.07 -18.48 L-17.43 -18.92 L-20.96 -18.95 L-24.61 -18.51 L-28.28 -17.53 L-31.9 -15.95 L-35.35 -13.74M-1.44 -14.67 L-3.52 -16.28 L-5.91 -17.8 L-8.61 -19.17 L-11.62 -20.31 L-14.92 -21.17 L-18.48 -21.67 L-22.24 -21.74 L-26.13 -21.32 L-30.07 -20.33 L-33.96 -18.71M0.27 -15.13 L-1.47 -16.86 L-3.55 -18.58 L-5.99 -20.19 L-8.8 -21.65 L-11.96 -22.89 L-15.44 -23.84 L-19.22 -24.42 L-23.23 -24.56 L-27.4 -24.17 L-31.63 -23.18M2.07 -15.29 L0.71 -17.09 L-1.02 -18.94 L-3.14 -20.75 L-5.67 -22.48 L-8.61 -24.06 L-11.94 -25.42 L-15.64 -26.48 L-19.67 -27.16 L-23.95 -27.37 L-28.43 -27.03M3.91 -15.16 L2.96 -16.96 L1.62 -18.88 L-0.14 -20.83 L-2.33 -22.77 L-4.97 -24.63 L-8.06 -26.35 L-11.6 -27.85 L-15.54 -29.04 L-19.84 -29.84 L-24.43 -30.15M5.75 -14.74 L5.22 -16.48 L4.29 -18.4 L2.95 -20.43 L1.14 -22.51 L-1.14 -24.6 L-3.92 -26.62 L-7.2 -28.5 L-10.96 -30.17 L-15.16 -31.52 L-19.76 -32.46M7.54 -14.04 L7.42 -15.65 L6.93 -17.51 L6.02 -19.55 L4.65 -21.71 L2.77 -23.95 L0.37 -26.21 L-2.57 -28.42 L-6.05 -30.5 L-10.04 -32.35 L-14.53 -33.89M9.22 -13.08 L9.52 -14.51 L9.47 -16.25 L9 -18.22 L8.09 -20.38 L6.66 -22.71 L4.7 -25.13 L2.17 -27.6 L-0.94 -30.03 L-4.64 -32.33 L-8.89 -34.4M10.75 -11.88 L11.45 -13.08 L11.82 -14.63 L11.81 -16.48 L11.37 -18.58 L10.43 -20.91 L8.95 -23.43 L6.89 -26.07 L4.22 -28.77 L0.92 -31.44 L-3 -33.99M12.09 -10.48 L13.15 -11.4 L13.93 -12.71 L14.37 -14.37 L14.4 -16.34 L13.96 -18.6 L13 -21.13 L11.46 -23.87 L9.29 -26.75 L6.48 -29.71 L2.99 -32.65M13.2 -8.92 L14.59 -9.51 L15.75 -10.54 L16.61 -11.95 L17.11 -13.73 L17.17 -15.85 L16.74 -18.31 L15.75 -21.05 L14.14 -24.04 L11.88 -27.19 L8.91 -30.44M14.06 -7.24 L15.72 -7.48 L17.22 -8.18 L18.47 -9.29 L19.41 -10.81 L19.97 -12.73 L20.07 -15.03 L19.65 -17.7 L18.64 -20.69 L16.97 -23.95 L14.6 -27.41M14.63 -5.48 L16.51 -5.34 L18.29 -5.69 L19.89 -6.47 L21.24 -7.67 L22.27 -9.32 L22.9 -11.4 L23.05 -13.91 L22.65 -16.82 L21.63 -20.08 L19.91 -23.63M14.9 -3.69 L16.94 -3.17 L18.95 -3.14 L20.85 -3.55 L22.56 -4.4 L24.02 -5.72 L25.15 -7.51 L25.87 -9.78 L26.08 -12.51 L25.71 -15.67 L24.68 -19.22M14.87 -1.93 L17 -1.03 L19.18 -0.6 L21.31 -0.61 L23.33 -1.08 L25.17 -2.02 L26.76 -3.47 L28.01 -5.42 L28.83 -7.89 L29.12 -10.86 L28.8 -14.3M14.54 -0.23 L16.69 1.04 L18.96 1.86 L21.26 2.25 L23.52 2.2 L25.69 1.67 L27.69 0.62 L29.43 -0.96 L30.81 -3.09 L31.75 -5.77 L32.15 -8.99M13.91 1.35 L16.01 2.97 L18.3 4.17 L20.7 4.97 L23.14 5.35 L25.56 5.25 L27.91 4.64 L30.08 3.49 L31.99 1.77 L33.54 -0.55 L34.63 -3.45" stroke="#1e1e1e" stroke-width="1.17"/>
<ellipse cx="2" cy="-2.25" rx="25.61" ry="20.26" transform="rotate(38 2 -2.25)" stroke-width="1.08"/>
<ellipse cx="3.73" cy="-4.48" rx="11.77" ry="10.19" transform="rotate(38 3.73 -4.48)" fill="#fff" stroke-width="1.1"/>
<ellipse cx="3.73" cy="-4.48" rx="10.28" ry="8.87" transform="rotate(38 3.73 -4.48)" fill="#fff" stroke="#777" stroke-width="0.6"/>
<circle cx="4.14" cy="-9.7" r="1.49" fill="#3a3a3a" stroke="none"/>
<path d="M-0.08 -1.66q0.48 -1.49 0.95 0q0.48 1.49 0.95 0q0.48 -1.49 0.95 0q0.48 1.49 0.95 0q0.48 -1.49 0.95 0q0.48 1.49 0.95 0q0.48 -1.49 0.95 0q0.48 1.49 0.95 0" fill="none" stroke="#888" stroke-width="0.41" transform="rotate(8 3.73 -4.48)"/>
</g>
<g transform="translate(130 370) scale(0.26532)" stroke-width="3.02">
<circle cx="158" cy="88" r="68" fill="#b4b4b4" stroke="none"/>
<path d="M56 98 C50 120 42 140 38 158 L66 166 C72 145 82 122 90 102 Z" fill="#fff" stroke-width="4.15"/>
<path d="M26 178 C36 168 46 172 52 164" stroke="#222" stroke-width="3.77"/>
<path d="M44 60 H134 V100 H52 C44 92 40 76 44 60 Z" fill="#fff" stroke-width="4.9"/>
<path d="M62 68 H92 V94 H62 Z M98 68 H126 V94 H98 Z" fill="#333" stroke="none"/>
<path d="M46 64 H132" stroke="#222" stroke-width="6.03"/>
<path d="M134 68 H158 L174 74 V84 L158 90 H134 Z" fill="#fff" stroke-width="3.77"/>
<path d="M142 68 V90 M150 68 V90" stroke="#333" stroke-width="2.26"/>
<path d="M174 79 H222" stroke="#222" stroke-width="5.65"/>
<path d="M237 72 V86" stroke="#333" stroke-width="4.52"/>
<path d="M238 76.5 L284 78.2 L238 81.5 Z" fill="#444" stroke="#333" stroke-width="1.51"/>
<circle cx="307.5" cy="79" r="4.6" fill="#fff" stroke="#333" stroke-width="3.02"/>
<path d="M313 72 H330 L336 75 L353 76 V81 L336 83 L330 86 H313 Z" fill="#555" stroke="#333" stroke-width="1.88"/>
<path d="M180 100 H300" fill="none" stroke="#666" stroke-width="2.26" stroke-dasharray="6.03 4.52" stroke-linecap="butt"/>
<path d="M300 96 L312 100 L300 104 Z" fill="#666" stroke="none"/>
</g>
<circle cx="215.7" cy="462.2" r="24.9" fill="#fff" stroke="#444" stroke-width="1.3"/>
<circle cx="215.7" cy="462.2" r="24.9" stroke="#fff" stroke-width="0.5" stroke-dasharray="1 1.2"/>
<circle cx="201.2" cy="447.5" r="1.6" fill="#555" stroke="none"/>
<circle cx="230" cy="447.5" r="1.6" fill="#555" stroke="none"/>
<circle cx="201.2" cy="477.3" r="1.6" fill="#555" stroke="none"/>
<circle cx="230" cy="477.3" r="1.6" fill="#555" stroke="none"/>
<path d="M219.3 428 L215.9 448.5" stroke="#444" stroke-width="0.7"/>
<path d="M215.1 453 V450.4 A1 1 0 0 1 217.1 450.4 V453 Z" fill="#fff" stroke="#333" stroke-width="0.6"/>
<path d="M72.8 399 V519.5 L71.6 520.2" stroke="#666" stroke-width="0.9"/>
<g transform="translate(25 395) scale(0.19900)" stroke-width="4.02">
<ellipse cx="108" cy="315" rx="74" ry="143" transform="rotate(4 108 315)" fill="#fff" stroke-width="5.03"/>
<ellipse cx="116" cy="315" rx="66" ry="136" transform="rotate(4 116 315)" fill="#fff" stroke="#444"/>
<ellipse cx="122" cy="315" rx="58" ry="128" transform="rotate(4 122 315)" fill="#fff" stroke="#999"/>
<ellipse cx="128" cy="370" rx="29" ry="34" fill="#fff"/>
<ellipse cx="141" cy="372" rx="18" ry="25" transform="rotate(8 141 372)" fill="#777" stroke="#222" stroke-width="4.52"/>
<circle cx="112" cy="330" r="2.2" fill="#777" stroke="none"/>
<circle cx="95" cy="352" r="2.2" fill="#777" stroke="none"/>
<circle cx="92" cy="385" r="2.2" fill="#777" stroke="none"/>
<circle cx="105" cy="412" r="2.2" fill="#777" stroke="none"/>
<path d="M160 262 C150 290 150 330 160 352" stroke="#333"/>
<path d="M400 104 C330 96 240 130 200 210 C165 285 175 380 225 440 C260 480 310 500 350 496 Z" fill="#fff" stroke-width="4.52"/>
<path d="M250 455 L256 462" stroke="#333"/>
</g>
<g transform="translate(101.6 455.7)">
<ellipse cx="0" cy="0" rx="39.5" ry="29.2" transform="rotate(100 0 0)" fill="#fff" stroke="#333" stroke-width="0.7"/>
<ellipse cx="0" cy="0" rx="38.6" ry="28.3" transform="rotate(100 0 0)" fill="#d2d2d2" stroke="#666" stroke-width="0.5"/>
<ellipse cx="0.45" cy="-0.3" rx="36.2" ry="26.05" transform="rotate(100 0.45 -0.3)" fill="#fff" stroke="#333" stroke-width="0.7"/>
<path d="M3.16 10.87 L2.41 13.33 L2.04 15.82 L2.03 18.31 L2.37 20.72 L3.1 23.01 L4.22 25.08 L5.75 26.86 L7.67 28.25 L9.98 29.16 L12.64 29.48M1.96 10.53 L0.91 12.95 L0.22 15.49 L-0.12 18.08 L-0.11 20.69 L0.3 23.24 L1.11 25.68 L2.34 27.9 L4.01 29.83 L6.11 31.36 L8.62 32.39M0.85 9.92 L-0.5 12.24 L-1.5 14.75 L-2.17 17.38 L-2.5 20.1 L-2.45 22.85 L-1.98 25.58 L-1.08 28.19 L0.27 30.6 L2.09 32.71 L4.37 34.4M-0.15 9.08 L-1.78 11.23 L-3.07 13.63 L-4.07 16.22 L-4.75 18.98 L-5.06 21.85 L-4.96 24.79 L-4.43 27.71 L-3.44 30.53 L-1.96 33.15 L0.02 35.46M-1.02 8.02 L-2.88 9.94 L-4.46 12.16 L-5.77 14.63 L-6.79 17.35 L-7.46 20.27 L-7.75 23.33 L-7.62 26.48 L-7.02 29.63 L-5.93 32.69 L-4.32 35.55M-1.72 6.77 L-3.8 8.4 L-5.62 10.37 L-7.22 12.67 L-8.56 15.26 L-9.59 18.13 L-10.27 21.24 L-10.55 24.53 L-10.38 27.92 L-9.72 31.34 L-8.53 34.67M-2.25 5.37 L-4.49 6.65 L-6.53 8.33 L-8.38 10.37 L-10.02 12.77 L-11.39 15.52 L-12.45 18.58 L-13.14 21.91 L-13.42 25.45 L-13.22 29.12 L-12.5 32.82M-2.58 3.85 L-4.94 4.76 L-7.15 6.09 L-9.22 7.81 L-11.12 9.95 L-12.81 12.49 L-14.24 15.42 L-15.34 18.7 L-16.06 22.28 L-16.33 26.1 L-16.11 30.08M-2.71 2.26 L-5.14 2.75 L-7.47 3.69 L-9.71 5.06 L-11.85 6.87 L-13.82 9.13 L-15.58 11.84 L-17.07 14.98 L-18.22 18.5 L-18.98 22.37 L-19.27 26.5M-2.63 0.63 L-5.08 0.7 L-7.48 1.22 L-9.85 2.18 L-12.16 3.61 L-14.38 5.53 L-16.44 7.94 L-18.29 10.85 L-19.86 14.22 L-21.09 18.02 L-21.9 22.2M-2.34 -0.98 L-4.76 -1.34 L-7.19 -1.26 L-9.63 -0.73 L-12.07 0.27 L-14.48 1.79 L-16.79 3.84 L-18.96 6.43 L-20.92 9.55 L-22.59 13.18 L-23.91 17.28M-1.86 -2.53 L-4.2 -3.33 L-6.59 -3.69 L-9.05 -3.61 L-11.57 -3.06 L-14.11 -1.99 L-16.63 -0.36 L-19.07 1.83 L-21.37 4.62 L-23.46 7.97 L-25.26 11.88M-1.2 -3.98 L-3.41 -5.19 L-5.71 -5.99 L-8.13 -6.38 L-10.67 -6.3 L-13.29 -5.7 L-15.96 -4.55 L-18.62 -2.81 L-21.21 -0.45 L-23.67 2.54 L-25.91 6.15M-0.37 -5.3 L-2.4 -6.89 L-4.57 -8.11 L-6.9 -8.95 L-9.4 -9.35 L-12.04 -9.25 L-14.8 -8.61 L-17.61 -7.37 L-20.44 -5.5 L-23.2 -2.96 L-25.83 0.24M0.61 -6.44 L-1.21 -8.37 L-3.2 -9.99 L-5.39 -11.26 L-7.8 -12.13 L-10.4 -12.54 L-13.17 -12.42 L-16.08 -11.73 L-19.07 -10.4 L-22.08 -8.39 L-25.05 -5.68M1.7 -7.37 L0.13 -9.6 L-1.63 -11.57 L-3.64 -13.25 L-5.9 -14.57 L-8.4 -15.47 L-11.13 -15.9 L-14.06 -15.76 L-17.15 -15.01 L-20.34 -13.59 L-23.56 -11.45M2.87 -8.07 L1.59 -10.55 L0.08 -12.82 L-1.7 -14.85 L-3.76 -16.6 L-6.11 -17.98 L-8.73 -18.93 L-11.62 -19.37 L-14.73 -19.22 L-18.01 -18.43 L-21.42 -16.93M4.1 -8.52 L3.11 -11.18 L1.89 -13.69 L0.38 -16.04 L-1.44 -18.16 L-3.58 -19.98 L-6.04 -21.44 L-8.81 -22.44 L-11.87 -22.91 L-15.18 -22.77 L-18.69 -21.94M5.35 -8.71 L4.68 -11.48 L3.76 -14.17 L2.54 -16.77 L1 -19.21 L-0.88 -21.43 L-3.12 -23.35 L-5.71 -24.9 L-8.65 -25.97 L-11.9 -26.49 L-15.43 -26.37M6.59 -8.62 L6.23 -11.44 L5.63 -14.24 L4.73 -17.02 L3.5 -19.72 L1.91 -22.28 L-0.06 -24.63 L-2.42 -26.67 L-5.16 -28.33 L-8.28 -29.5 L-11.74 -30.08M7.79 -8.28 L7.73 -11.06 L7.45 -13.91 L6.88 -16.8 L5.98 -19.69 L4.71 -22.52 L3.05 -25.23 L0.99 -27.72 L-1.5 -29.91 L-4.41 -31.7 L-7.72 -32.99M8.9 -7.67 L9.14 -10.35 L9.17 -13.17 L8.93 -16.09 L8.37 -19.1 L7.45 -22.13 L6.15 -25.13 L4.41 -28.01 L2.24 -30.68 L-0.39 -33.05 L-3.47 -35M9.9 -6.83 L10.41 -9.34 L10.74 -12.05 L10.83 -14.93 L10.62 -17.98 L10.06 -21.13 L9.12 -24.34 L7.76 -27.53 L5.95 -30.62 L3.66 -33.5 L0.88 -36.06M10.77 -5.77 L11.52 -8.04 L12.13 -10.57 L12.53 -13.35 L12.66 -16.35 L12.47 -19.54 L11.91 -22.88 L10.95 -26.3 L9.53 -29.71 L7.63 -33.04 L5.22 -36.15M11.47 -4.52 L12.43 -6.51 L13.29 -8.79 L13.98 -11.38 L14.43 -14.26 L14.6 -17.41 L14.43 -20.79 L13.88 -24.35 L12.89 -28 L11.42 -31.68 L9.43 -35.27M12 -3.12 L13.12 -4.76 L14.2 -6.75 L15.14 -9.09 L15.89 -11.77 L16.4 -14.8 L16.61 -18.13 L16.47 -21.73 L15.93 -25.53 L14.92 -29.46 L13.4 -33.42M12.33 -1.6 L13.58 -2.86 L14.82 -4.5 L15.97 -6.53 L16.99 -8.95 L17.82 -11.77 L18.4 -14.97 L18.67 -18.51 L18.57 -22.36 L18.03 -26.45 L17.01 -30.68M12.46 -0.01 L13.77 -0.86 L15.14 -2.11 L16.47 -3.77 L17.72 -5.87 L18.82 -8.41 L19.74 -11.39 L20.4 -14.79 L20.73 -18.59 L20.68 -22.71 L20.17 -27.1M12.38 1.62 L13.72 1.19 L15.15 0.36 L16.61 -0.9 L18.03 -2.61 L19.38 -4.81 L20.6 -7.49 L21.62 -10.67 L22.37 -14.3 L22.79 -18.37 L22.8 -22.8M12.09 3.23 L13.4 3.23 L14.86 2.84 L16.38 2.02 L17.94 0.73 L19.48 -1.07 L20.95 -3.39 L22.29 -6.25 L23.43 -9.63 L24.29 -13.52 L24.81 -17.88M11.61 4.78 L12.84 5.22 L14.26 5.27 L15.81 4.9 L17.44 4.06 L19.12 2.71 L20.79 0.81 L22.4 -1.65 L23.88 -4.7 L25.16 -8.31 L26.16 -12.48M10.95 6.23 L12.04 7.08 L13.38 7.57 L14.89 7.66 L16.54 7.3 L18.3 6.43 L20.12 5 L21.95 2.99 L23.72 0.36 L25.37 -2.88 L26.81 -6.75M10.12 7.55 L11.03 8.78 L12.24 9.69 L13.66 10.24 L15.27 10.35 L17.05 9.97 L18.96 9.06 L20.94 7.55 L22.95 5.41 L24.9 2.62 L26.73 -0.84M9.14 8.69 L9.84 10.27 L10.87 11.57 L12.15 12.55 L13.67 13.13 L15.41 13.26 L17.33 12.87 L19.41 11.91 L21.58 10.31 L23.78 8.05 L25.95 5.08M8.05 9.62 L8.5 11.5 L9.31 13.15 L10.4 14.53 L11.77 15.57 L13.41 16.2 L15.29 16.35 L17.39 15.95 L19.66 14.93 L22.04 13.25 L24.46 10.85M6.88 10.32 L7.05 12.44 L7.59 14.4 L8.46 16.14 L9.63 17.6 L11.11 18.7 L12.89 19.38 L14.95 19.55 L17.24 19.14 L19.72 18.09 L22.32 16.33M5.65 10.77 L5.52 13.07 L5.78 15.27 L6.38 17.32 L7.31 19.16 L8.58 20.7 L10.2 21.89 L12.14 22.62 L14.38 22.83 L16.88 22.43 L19.59 21.34M4.4 10.96 L3.96 13.37 L3.91 15.75 L4.21 18.05 L4.87 20.21 L5.89 22.15 L7.28 23.8 L9.04 25.08 L11.16 25.89 L13.6 26.15 L16.33 25.77" stroke="#1e1e1e" stroke-width="1.17"/>
<ellipse cx="2.5" cy="0.36" rx="23.05" ry="16.77" transform="rotate(100 2.5 0.36)" stroke-width="1.04"/>
<ellipse cx="4.88" cy="1.12" rx="9.9" ry="7.5" transform="rotate(100 4.88 1.12)" fill="#fff" stroke-width="1.1"/>
<ellipse cx="4.88" cy="1.12" rx="8.55" ry="6.3" transform="rotate(100 4.88 1.12)" fill="#fff" stroke="#777" stroke-width="0.6"/>
<circle cx="7.42" cy="-2.78" r="1.35" fill="#3a3a3a" stroke="none"/>
<path d="M1.43 3.67q0.43 -1.35 0.86 0q0.43 1.35 0.86 0q0.43 -1.35 0.86 0q0.43 1.35 0.86 0q0.43 -1.35 0.86 0q0.43 1.35 0.86 0q0.43 -1.35 0.86 0q0.43 1.35 0.86 0" fill="none" stroke="#888" stroke-width="0.4" transform="rotate(-60 4.88 1.12)"/>
</g>
<g transform="translate(35 505) scale(0.19900)" stroke-width="4.02">
<path d="M85 126 L157 96 L229 126" stroke="#1a1a1a" stroke-width="14.57" stroke-linecap="butt" stroke-linejoin="miter"/>
<path d="M132 258 H179" stroke="#bbb" stroke-width="3.02"/>
<path d="M45 110 L70 104" stroke="#555" stroke-width="3.02"/>
<path d="M113 186 L134 168 L150 184 L184 150 L201 164 L148 216 Z" fill="#fff" stroke="#1a1a1a" stroke-width="7.54" stroke-linejoin="miter"/>
<rect x="420" y="40" width="163" height="258" fill="#c6c6c6" stroke="none"/>
<path d="M420 40 V298" stroke="#222" stroke-width="5.03"/>
<rect x="362" y="42" width="16" height="253" fill="#1a1a1a" stroke="none"/>
<rect x="362" y="130" width="16" height="102" fill="#fff" stroke="#222" stroke-width="3.02"/>
<path d="M282 108 C272 125 272 155 282 172 C292 168 300 160 310 152 L336 150 V132 L310 130 C300 122 292 112 282 108 Z" fill="#fff" stroke="#333" stroke-width="4.02"/>
<path d="M336 134 H440 V149 H336 Z" fill="#fff" stroke="#333" stroke-width="3.52"/>
<path d="M436 130 H520 L546 142 L520 154 H436 Z" fill="#999" stroke="#333" stroke-width="3.02"/>
<path d="M440 154 L449 130M450 154 L459 130M460 154 L469 130M470 154 L479 130M480 154 L489 130M490 154 L499 130M500 154 L509 130M510 154 L519 130" stroke="#222" stroke-width="4.02"/>
</g>
<g transform="translate(155 505) scale(0.19900)" stroke-width="4.02">
<path d="M60 126 L132 96 L204 126" stroke="#1a1a1a" stroke-width="14.57" stroke-linecap="butt" stroke-linejoin="miter"/>
<path d="M107 258 H154" stroke="#bbb" stroke-width="3.02"/>
<path d="M100 168 L115 153 L132 170 L149 153 L164 168 L147 185 L164 202 L149 217 L132 200 L115 217 L100 202 L117 185 Z" fill="#fff" stroke="#1a1a1a" stroke-width="7.54" stroke-linejoin="miter"/>
<rect x="398" y="40" width="167" height="258" fill="#c6c6c6" stroke="none"/>
<path d="M398 40 V298" stroke="#222" stroke-width="5.03"/>
<rect x="267" y="42" width="16" height="253" fill="#1a1a1a" stroke="none"/>
<rect x="267" y="108" width="16" height="104" fill="#fff" stroke="#222" stroke-width="3.02"/>
<path d="M252 108 H266 C270 108 272 112 272 116 L284 134 V152 L272 168 C272 172 270 176 266 176 H252 C248 176 246 172 246 168 V116 C246 112 248 108 252 108 Z" fill="#fff" stroke="#333" stroke-width="4.02"/>
<path d="M284 135 H420 V150 H284 Z" fill="#fff" stroke="#333" stroke-width="3.52"/>
<path d="M416 130 H500 L526 142 L500 154 H416 Z" fill="#999" stroke="#333" stroke-width="3.02"/>
<path d="M420 154 L429 130M430 154 L439 130M440 154 L449 130M450 154 L459 130M460 154 L469 130M470 154 L479 130M480 154 L489 130M490 154 L499 130" stroke="#222" stroke-width="4.02"/>
</g>
<path d="M336.6 515.2 L432.5 468.6" stroke="#555" stroke-width="0.7"/>
<g transform="translate(380.4 470.3)" stroke-width="0.8">
<g transform="scale(0.74)" stroke-width="1.08">
<ellipse cx="0.5" cy="69.2" rx="37.5" ry="18.2" transform="rotate(5 0.5 69.2)" fill="#fff"/>
<ellipse cx="0.5" cy="65.6" rx="37.5" ry="18.2" transform="rotate(5 0.5 65.6)" fill="#fff"/>
<ellipse cx="0.5" cy="62" rx="37.5" ry="18.2" transform="rotate(5 0.5 62)" fill="#fff" stroke-width="1.35"/>
<path d="M35.17 67.63 L34.32 69.07 L33.17 70.44 L31.74 71.74 L30.04 72.95 L28.08 74.06 L25.89 75.07 L23.47 75.96 L20.86 76.73 L18.07 77.37 L15.12 77.87 L12.05 78.23 L8.88 78.45 L5.64 78.53 L2.36 78.45 L-0.95 78.24 L-4.24 77.88 L-7.49 77.38 L-10.67 76.74 L-13.75 75.97 L-16.71 75.09 L-19.52 74.08 L-22.16 72.97 L-24.6 71.76 L-26.82 70.46 L-28.81 69.09 L-30.54 67.65 L-32.01 66.16 L-33.19 64.63 L-34.08 63.08 L-34.68 61.52" stroke="#999"/>
<path d="M-21 52 C-20 57 -17 60 -10 61 C-2 62 6 60 8 55" stroke="#333" transform="translate(9.5 -3.8)"/>
<circle cx="-7.5" cy="6" r="49.5" fill="#fff"/>
<path d="M-29.44 44.98 L-32.42 42.91 L-35.25 40.63 L-37.91 38.15 L-40.39 35.49 L-42.67 32.65 L-44.74 29.67 L-46.6 26.55 L-48.22 23.31 L-49.6 19.97 L-50.73 16.55 L-51.61 13.06 L-52.23 9.54 L-52.59 5.99 L-52.68 2.44 L-52.5 -1.1 L-52.06 -4.59 L-51.36 -8.04 L-50.4 -11.4 L-49.19 -14.67 L-47.73 -17.82 L-46.03 -20.85 L-44.11 -23.72 L-41.96 -26.44 L-39.62 -28.97 L-37.08 -31.31 L-34.36 -33.44 L-31.48 -35.35 L-28.46 -37.03 L-25.3 -38.47 L-22.03 -39.66 L-18.67 -40.6 L-15.24 -41.28 L-11.75 -41.7 L-8.23 -41.85 L-4.69 -41.74 L-1.15 -41.36 L2.36 -40.71 L5.82 -39.81 L9.22 -38.65 L12.54 -37.24 L15.76 -35.59 L18.86 -33.71 L21.82 -31.61 L24.63 -29.3 L27.26 -26.79 L29.72 -24.1 L31.97 -21.25 L34.02 -18.24 L35.84 -15.1 L37.43 -11.85" stroke="#555"/>
<ellipse cx="16" cy="63.8" rx="8.3" ry="6.2" transform="rotate(15 16 63.8)" fill="#fff"/>
<ellipse cx="17.2" cy="60.6" rx="7.3" ry="4.9" transform="rotate(15 17.2 60.6)" fill="#6e6e6e" stroke="#222" stroke-width="1.35"/>
<circle cx="4.5" cy="59.9" r="0.5" fill="#666" stroke="none"/>
<circle cx="6" cy="66.6" r="0.5" fill="#666" stroke="none"/>
<circle cx="12.7" cy="73.3" r="0.5" fill="#666" stroke="none"/>
<circle cx="21.7" cy="73.3" r="0.5" fill="#666" stroke="none"/>
<circle cx="26.2" cy="68.8" r="0.5" fill="#666" stroke="none"/>
<circle cx="17.5" cy="50.3" r="0.6" fill="#444" stroke="none"/>
</g>
<ellipse cx="0" cy="0" rx="38.6" ry="30.4" transform="rotate(42 0 0)" fill="#fff" stroke="#333" stroke-width="0.7"/>
<ellipse cx="0" cy="0" rx="37.71" ry="29.51" transform="rotate(42 0 0)" fill="#d2d2d2" stroke="#666" stroke-width="0.5"/>
<ellipse cx="0.45" cy="-0.3" rx="35.33" ry="27.28" transform="rotate(42 0.45 -0.3)" fill="#fff" stroke="#333" stroke-width="0.7"/>
<path d="M11.77 5.12 L13.38 6.75 L15.25 8.08 L17.29 9.1 L19.48 9.79 L21.76 10.08 L24.08 9.93 L26.37 9.3 L28.55 8.14 L30.53 6.42 L32.22 4.11M10.66 6.14 L12.08 8.01 L13.82 9.63 L15.8 10.99 L17.97 12.05 L20.32 12.75 L22.78 13.05 L25.29 12.88 L27.79 12.2 L30.19 10.96 L32.38 9.12M9.36 6.94 L10.55 9.01 L12.11 10.88 L13.94 12.54 L16.04 13.95 L18.38 15.05 L20.9 15.78 L23.57 16.09 L26.3 15.92 L29.04 15.2 L31.67 13.88M7.92 7.5 L8.83 9.72 L10.15 11.79 L11.79 13.71 L13.74 15.44 L15.99 16.91 L18.5 18.07 L21.24 18.85 L24.13 19.18 L27.11 19 L30.1 18.25M6.36 7.8 L6.97 10.11 L7.99 12.34 L9.38 14.47 L11.13 16.47 L13.22 18.27 L15.65 19.83 L18.36 21.06 L21.33 21.91 L24.47 22.28 L27.73 22.12M4.74 7.84 L5.01 10.18 L5.71 12.51 L6.8 14.8 L8.28 17.02 L10.15 19.12 L12.41 21.03 L15.03 22.69 L17.97 24.02 L21.19 24.94 L24.61 25.37M3.1 7.61 L3 9.93 L3.35 12.29 L4.1 14.68 L5.27 17.07 L6.86 19.41 L8.88 21.63 L11.32 23.67 L14.15 25.46 L17.34 26.9 L20.83 27.92M1.49 7.12 L1.01 9.35 L0.99 11.7 L1.37 14.13 L2.18 16.62 L3.44 19.14 L5.16 21.61 L7.34 23.99 L9.98 26.19 L13.05 28.12 L16.5 29.71M-0.07 6.38 L-0.91 8.48 L-1.32 10.74 L-1.32 13.15 L-0.9 15.69 L-0.02 18.32 L1.34 20.99 L3.2 23.63 L5.56 26.18 L8.41 28.56 L11.73 30.67M-1.51 5.41 L-2.71 7.33 L-3.5 9.45 L-3.91 11.78 L-3.89 14.3 L-3.42 16.97 L-2.46 19.76 L-0.98 22.61 L1.03 25.45 L3.57 28.21 L6.65 30.79M-2.8 4.25 L-4.34 5.93 L-5.5 7.86 L-6.31 10.05 L-6.71 12.48 L-6.68 15.13 L-6.15 17.97 L-5.11 20.95 L-3.51 24.01 L-1.34 27.08 L1.4 30.07M-3.91 2.92 L-5.76 4.32 L-7.27 6.02 L-8.46 8.01 L-9.29 10.29 L-9.69 12.85 L-9.63 15.67 L-9.05 18.7 L-7.92 21.9 L-6.2 25.19 L-3.88 28.51M-4.81 1.45 L-6.92 2.55 L-8.76 3.96 L-10.31 5.71 L-11.54 7.79 L-12.39 10.19 L-12.8 12.91 L-12.71 15.92 L-12.09 19.17 L-10.87 22.61 L-9.03 26.17M-5.46 -0.11 L-7.81 0.66 L-9.92 1.76 L-11.8 3.22 L-13.41 5.04 L-14.69 7.23 L-15.57 9.78 L-15.99 12.68 L-15.9 15.9 L-15.23 19.4 L-13.93 23.11M-5.87 -1.71 L-8.38 -1.3 L-10.72 -0.53 L-12.9 0.6 L-14.85 2.12 L-16.53 4.03 L-17.86 6.36 L-18.79 9.08 L-19.24 12.19 L-19.14 15.65 L-18.44 19.4M-6 -3.33 L-8.63 -3.27 L-11.15 -2.85 L-13.57 -2.07 L-15.82 -0.9 L-17.86 0.7 L-19.63 2.73 L-21.04 5.21 L-22.03 8.12 L-22.52 11.45 L-22.43 15.16M-5.86 -4.9 L-8.55 -5.19 L-11.19 -5.14 L-13.79 -4.72 L-16.29 -3.92 L-18.66 -2.68 L-20.81 -0.99 L-22.68 1.18 L-24.19 3.82 L-25.25 6.94 L-25.79 10.5M-5.46 -6.4 L-8.14 -7.02 L-10.84 -7.32 L-13.56 -7.29 L-16.26 -6.86 L-18.88 -6.01 L-21.38 -4.7 L-23.66 -2.91 L-25.66 -0.6 L-27.28 2.22 L-28.45 5.55M-4.8 -7.77 L-7.41 -8.7 L-10.11 -9.35 L-12.89 -9.69 L-15.71 -9.65 L-18.54 -9.21 L-21.31 -8.32 L-23.96 -6.93 L-26.4 -5.02 L-28.55 -2.57 L-30.31 0.43M-3.9 -8.98 L-6.39 -10.2 L-9.02 -11.17 L-11.79 -11.86 L-14.67 -12.22 L-17.63 -12.19 L-20.62 -11.73 L-23.56 -10.79 L-26.39 -9.33 L-29.01 -7.3 L-31.33 -4.7M-2.79 -10 L-5.09 -11.46 L-7.59 -12.73 L-10.29 -13.75 L-13.17 -14.48 L-16.19 -14.86 L-19.32 -14.85 L-22.49 -14.37 L-25.63 -13.39 L-28.66 -11.85 L-31.49 -9.72M-1.49 -10.8 L-3.56 -12.46 L-5.88 -13.97 L-8.44 -15.3 L-11.23 -16.38 L-14.25 -17.16 L-17.44 -17.58 L-20.76 -17.58 L-24.14 -17.1 L-27.51 -16.09 L-30.78 -14.48M-0.05 -11.36 L-1.84 -13.17 L-3.92 -14.88 L-6.28 -16.47 L-8.93 -17.86 L-11.86 -19.02 L-15.04 -19.86 L-18.43 -20.34 L-21.97 -20.37 L-25.59 -19.89 L-29.21 -18.85M1.51 -11.66 L0.02 -13.56 L-1.76 -15.43 L-3.87 -17.23 L-6.32 -18.9 L-9.1 -20.38 L-12.18 -21.63 L-15.56 -22.55 L-19.17 -23.09 L-22.95 -23.17 L-26.84 -22.71M3.12 -11.7 L1.98 -13.63 L0.52 -15.6 L-1.29 -17.55 L-3.47 -19.45 L-6.02 -21.22 L-8.95 -22.83 L-12.22 -24.18 L-15.81 -25.2 L-19.66 -25.83 L-23.72 -25.97M4.76 -11.47 L3.99 -13.38 L2.88 -15.38 L1.41 -17.44 L-0.46 -19.5 L-2.73 -21.52 L-5.42 -23.43 L-8.51 -25.16 L-11.99 -26.64 L-15.82 -27.79 L-19.94 -28.52M6.38 -10.98 L5.98 -12.8 L5.24 -14.79 L4.14 -16.89 L2.63 -19.05 L0.69 -21.25 L-1.7 -23.41 L-4.54 -25.48 L-7.82 -27.37 L-11.52 -29.01 L-15.61 -30.3M7.93 -10.24 L7.9 -11.93 L7.55 -13.84 L6.83 -15.91 L5.71 -18.12 L4.15 -20.43 L2.12 -22.78 L-0.4 -25.12 L-3.4 -27.37 L-6.89 -29.45 L-10.84 -31.27M9.38 -9.27 L9.7 -10.78 L9.73 -12.55 L9.41 -14.54 L8.7 -16.73 L7.55 -19.08 L5.92 -21.56 L3.79 -24.1 L1.13 -26.64 L-2.05 -29.1 L-5.76 -31.39M10.67 -8.11 L11.33 -9.38 L11.73 -10.96 L11.82 -12.81 L11.52 -14.91 L10.81 -17.24 L9.62 -19.77 L7.91 -22.44 L5.67 -25.2 L2.87 -27.97 L-0.51 -30.66M11.78 -6.78 L12.75 -7.77 L13.5 -9.11 L13.97 -10.76 L14.1 -12.72 L13.82 -14.96 L13.09 -17.47 L11.86 -20.19 L10.08 -23.09 L7.73 -26.08 L4.77 -29.1M12.68 -5.31 L13.91 -5.99 L14.99 -7.06 L15.82 -8.46 L16.35 -10.21 L16.51 -12.3 L16.26 -14.71 L15.52 -17.41 L14.25 -20.36 L12.4 -23.5 L9.92 -26.76M13.33 -3.75 L14.8 -4.1 L16.15 -4.85 L17.31 -5.97 L18.22 -7.46 L18.81 -9.33 L19.03 -11.58 L18.8 -14.17 L18.06 -17.09 L16.75 -20.29 L14.82 -23.7M13.73 -2.15 L15.37 -2.15 L16.95 -2.56 L18.41 -3.35 L19.66 -4.54 L20.66 -6.14 L21.33 -8.15 L21.6 -10.57 L21.4 -13.38 L20.66 -16.53 L19.33 -20M13.87 -0.53 L15.62 -0.18 L17.38 -0.24 L19.07 -0.68 L20.63 -1.53 L21.99 -2.81 L23.09 -4.53 L23.85 -6.7 L24.19 -9.31 L24.04 -12.34 L23.32 -15.76M13.73 1.04 L15.54 1.74 L17.42 2.04 L19.3 1.97 L21.1 1.49 L22.79 0.57 L24.27 -0.81 L25.49 -2.67 L26.35 -5.01 L26.78 -7.83 L26.69 -11.1M13.33 2.54 L15.13 3.57 L17.07 4.23 L19.07 4.53 L21.07 4.43 L23.01 3.9 L24.84 2.91 L26.47 1.42 L27.82 -0.59 L28.81 -3.11 L29.34 -6.14M12.67 3.91 L14.4 5.26 L16.34 6.26 L18.39 6.93 L20.52 7.23 L22.67 7.1 L24.77 6.52 L26.76 5.44 L28.56 3.84 L30.07 1.68 L31.2 -1.03" stroke="#1e1e1e" stroke-width="1.17"/>
<ellipse cx="2.06" cy="-1.05" rx="22.94" ry="18.21" transform="rotate(42 2.06 -1.05)" stroke-width="1.04"/>
<ellipse cx="3.93" cy="-1.93" rx="10.54" ry="9.13" transform="rotate(42 3.93 -1.93)" fill="#fff" stroke-width="1.1"/>
<ellipse cx="3.93" cy="-1.93" rx="9.2" ry="7.94" transform="rotate(42 3.93 -1.93)" fill="#fff" stroke="#777" stroke-width="0.6"/>
<circle cx="4.31" cy="-6.61" r="1.34" fill="#3a3a3a" stroke="none"/>
<path d="M0.52 0.59q0.43 -1.34 0.85 0q0.43 1.34 0.85 0q0.43 -1.34 0.85 0q0.43 1.34 0.85 0q0.43 -1.34 0.85 0q0.43 1.34 0.85 0q0.43 -1.34 0.85 0q0.43 1.34 0.85 0" fill="none" stroke="#888" stroke-width="0.4" transform="rotate(8 3.93 -1.93)"/>
</g>
<g transform="translate(330 425) scale(0.26532)" stroke-width="3.02">
<clipPath id="magclip"><circle cx="462" cy="279" r="126"/></clipPath>
<circle cx="462" cy="279" r="126" fill="#fff" stroke="#222" stroke-width="4.15"/>
<g clip-path="url(#magclip)">
<path d="M340 232 C372 214 410 208 438 202 C470 194 500 182 522 172 C550 190 572 215 590 250" stroke="#333"/>
<path d="M340 236 C370 232 395 228 410 223 C422 219 430 215 436 211" stroke="#444"/>
<path d="M330 250 C360 240 390 232 412 226" stroke="#777"/>
<path d="M360 366 C410 368 450 360 476 352 C520 338 560 312 590 280" stroke="#333" stroke-width="3.77"/>
<path d="M372 384 C420 384 460 374 486 366 C530 352 565 330 592 300" stroke="#333"/>
<path d="M470 388 C505 380 535 366 558 350" stroke="#666" stroke-width="4.52" stroke-dasharray="2 1.5"/>
<path d="M424 252 L421 284 C424 304 446 314 470 313 C494 312 514 302 516 284 L515 254 Z" fill="#fff" stroke="#222" stroke-width="3.39"/>
<ellipse cx="470" cy="249" rx="45" ry="28" transform="rotate(6 470 249)" fill="#777" stroke="#222" stroke-width="4.9"/>
<ellipse cx="470" cy="249" rx="45" ry="28" transform="rotate(6 470 249)" stroke="#fff" stroke-width="2.26" stroke-dasharray="3 9"/>
<path d="M436 284 C455 296 485 298 500 290" fill="none" stroke="#444" stroke-width="2.64" stroke-dasharray="5.28 3.77" stroke-linecap="butt"/>
<path d="M494 286 L502 289 L497 296 Z" fill="#444" stroke="none"/>
<path d="M400 255 L408 258" stroke="#777"/>
</g>
</g>
<text x="438.4" y="504.3" font-size="4" fill="#555" stroke="none">0</text>
<text x="450.2" y="512.4" font-size="4" fill="#555" stroke="none">1</text>
<text x="463.8" y="511.2" font-size="4" fill="#555" stroke="none">2</text>
<text x="470.2" y="503.8" font-size="4" fill="#555" stroke="none">3</text>
<g transform="translate(536.8 423.4) rotate(0) scale(1)" stroke-width="0.8">
<circle cx="0" cy="0" r="20.8" fill="#fff" stroke="#555" stroke-width="1.4"/>
<circle cx="0" cy="15.1" r="2.7" fill="#fff" stroke="#333" stroke-width="0.9"/>
<path d="M-18.9 -7.9 C-19.5 -13 -13 -19.5 -7.9 -18.9" fill="#fff" stroke="#444"/>
<path d="M18.9 -7.9 C19.5 -13 13 -19.5 7.9 -18.9" fill="#fff" stroke="#444"/>
<path d="M-24.1 1.8 C-24.3 -1 -23.6 -4 -22.6 -6.3 L-18.3 -7.4 C-13.5 -10.5 -9.6 -14.5 -8.2 -18 L-7.5 -20.9 C-3 -22.3 3 -22.3 7.5 -20.9 L8.2 -18 C9.6 -14.5 13.5 -10.5 18.3 -7.4 L22.6 -6.3 C23.6 -4 24.3 -1 24.1 1.8 Z" fill="#fff"/>
<path d="M-24.1 1.8 H24.1 C24.3 5 24 9 23 12.1 H-23 C-24 9 -24.3 5 -24.1 1.8 Z" fill="#fff"/>
</g>
<path d="M0 -1.3 L2.8 -1.3 L2.8 -2.6 L6 0 L2.8 2.6 L2.8 1.3 L0 1.3Z" transform="translate(528.1 447) rotate(90)" fill="#8c8c8c" stroke="none"/>
<path d="M0 -1.3 L2.8 -1.3 L2.8 -2.6 L6 0 L2.8 2.6 L2.8 1.3 L0 1.3Z" transform="translate(536.8 447) rotate(90)" fill="#8c8c8c" stroke="none"/>
<path d="M0 -1.3 L2.8 -1.3 L2.8 -2.6 L6 0 L2.8 2.6 L2.8 1.3 L0 1.3Z" transform="translate(545.5 447) rotate(90)" fill="#8c8c8c" stroke="none"/>
<path d="M537.2 456.6 V473 M531.2 465.8 L537.2 473.4 L543.2 465.8" stroke="#333" stroke-width="1"/>
<g transform="translate(539 499.8) rotate(45) scale(1)" stroke-width="0.8">
<circle cx="0" cy="0" r="20.8" fill="#fff" stroke="#555" stroke-width="1.4"/>
<path d="M-18.9 -7.9 C-19.5 -13 -13 -19.5 -7.9 -18.9" fill="#fff" stroke="#444"/>
<path d="M18.9 -7.9 C19.5 -13 13 -19.5 7.9 -18.9" fill="#fff" stroke="#444"/>
<path d="M-24.1 1.8 C-24.3 -1 -23.6 -4 -22.6 -6.3 L-18.3 -7.4 C-13.5 -10.5 -9.6 -14.5 -8.2 -18 L-7.5 -20.9 C-3 -22.3 3 -22.3 7.5 -20.9 L8.2 -18 C9.6 -14.5 13.5 -10.5 18.3 -7.4 L22.6 -6.3 C23.6 -4 24.3 -1 24.1 1.8 Z" fill="#fff"/>
<path d="M-24.1 1.8 H24.1 C24.3 5 24 9 23 12.1 H-23 C-24 9 -24.3 5 -24.1 1.8 Z" fill="#fff"/>
</g>
<path d="M0 -1.3 L3.2 -1.3 L3.2 -2.7 L6.6 0 L3.2 2.7 L3.2 1.3 L0 1.3Z" transform="translate(515.5 510.2) rotate(135)" fill="#8c8c8c" stroke="none"/>
<path d="M0 -1.3 L3.2 -1.3 L3.2 -2.7 L6.6 0 L3.2 2.7 L3.2 1.3 L0 1.3Z" transform="translate(522 517.5) rotate(135)" fill="#8c8c8c" stroke="none"/>
<path d="M0 -1.3 L3.2 -1.3 L3.2 -2.7 L6.6 0 L3.2 2.7 L3.2 1.3 L0 1.3Z" transform="translate(528 523.5) rotate(135)" fill="#8c8c8c" stroke="none"/>
<path d="M556.24 530.8A33.2 33.2 0 0 1 518.16 530.8" fill="none" stroke="#444" stroke-width="2.1" stroke-linecap="butt"/>
<path d="M559.17 528.75 L556.24 534.15 L553.09 529.65Z" fill="#444" stroke="none"/>
<path d="M515.23 528.75 L521.31 529.65 L518.16 534.15Z" fill="#444" stroke="none"/>
<g transform="translate(182.5 640.9)" stroke-width="0.8">
<g transform="scale(0.75)" stroke-width="1.06">
<ellipse cx="1.3" cy="69" rx="37.5" ry="18.2" transform="rotate(5 1.3 69)" fill="#fff"/>
<ellipse cx="1.3" cy="65.4" rx="37.5" ry="18.2" transform="rotate(5 1.3 65.4)" fill="#fff"/>
<ellipse cx="1.3" cy="61.8" rx="37.5" ry="18.2" transform="rotate(5 1.3 61.8)" fill="#fff" stroke-width="1.33"/>
<path d="M35.97 67.43 L35.12 68.87 L33.97 70.24 L32.54 71.54 L30.84 72.75 L28.88 73.86 L26.69 74.87 L24.27 75.76 L21.66 76.53 L18.87 77.17 L15.92 77.67 L12.85 78.03 L9.68 78.25 L6.44 78.33 L3.16 78.25 L-0.15 78.04 L-3.44 77.68 L-6.69 77.18 L-9.87 76.54 L-12.95 75.77 L-15.91 74.89 L-18.72 73.88 L-21.36 72.77 L-23.8 71.56 L-26.02 70.26 L-28.01 68.89 L-29.74 67.45 L-31.21 65.96 L-32.39 64.43 L-33.28 62.88 L-33.88 61.32" stroke="#999"/>
<path d="M-21 52 C-20 57 -17 60 -10 61 C-2 62 6 60 8 55" stroke="#333" transform="translate(10.3 -4)"/>
<circle cx="-7.5" cy="6" r="49.5" fill="#fff"/>
<path d="M-29.44 44.98 L-32.42 42.91 L-35.25 40.63 L-37.91 38.15 L-40.39 35.49 L-42.67 32.65 L-44.74 29.67 L-46.6 26.55 L-48.22 23.31 L-49.6 19.97 L-50.73 16.55 L-51.61 13.06 L-52.23 9.54 L-52.59 5.99 L-52.68 2.44 L-52.5 -1.1 L-52.06 -4.59 L-51.36 -8.04 L-50.4 -11.4 L-49.19 -14.67 L-47.73 -17.82 L-46.03 -20.85 L-44.11 -23.72 L-41.96 -26.44 L-39.62 -28.97 L-37.08 -31.31 L-34.36 -33.44 L-31.48 -35.35 L-28.46 -37.03 L-25.3 -38.47 L-22.03 -39.66 L-18.67 -40.6 L-15.24 -41.28 L-11.75 -41.7 L-8.23 -41.85 L-4.69 -41.74 L-1.15 -41.36 L2.36 -40.71 L5.82 -39.81 L9.22 -38.65 L12.54 -37.24 L15.76 -35.59 L18.86 -33.71 L21.82 -31.61 L24.63 -29.3 L27.26 -26.79 L29.72 -24.1 L31.97 -21.25 L34.02 -18.24 L35.84 -15.1 L37.43 -11.85" stroke="#555"/>
<ellipse cx="16.8" cy="63.6" rx="8.3" ry="6.2" transform="rotate(15 16.8 63.6)" fill="#fff"/>
<ellipse cx="18" cy="60.4" rx="7.3" ry="4.9" transform="rotate(15 18 60.4)" fill="#6e6e6e" stroke="#222" stroke-width="1.33"/>
<circle cx="5.3" cy="59.7" r="0.5" fill="#666" stroke="none"/>
<circle cx="6.8" cy="66.4" r="0.5" fill="#666" stroke="none"/>
<circle cx="13.5" cy="73.1" r="0.5" fill="#666" stroke="none"/>
<circle cx="22.5" cy="73.1" r="0.5" fill="#666" stroke="none"/>
<circle cx="27" cy="68.6" r="0.5" fill="#666" stroke="none"/>
<circle cx="17.5" cy="50.3" r="0.6" fill="#444" stroke="none"/>
</g>
<ellipse cx="0" cy="0" rx="39.2" ry="30.6" transform="rotate(42 0 0)" fill="#fff" stroke="#333" stroke-width="0.7"/>
<ellipse cx="0" cy="0" rx="38.3" ry="29.7" transform="rotate(42 0 0)" fill="#d2d2d2" stroke="#666" stroke-width="0.5"/>
<ellipse cx="0.45" cy="-0.3" rx="35.88" ry="27.43" transform="rotate(42 0.45 -0.3)" fill="#fff" stroke="#333" stroke-width="0.7"/>
<path d="M10.67 2.94 L12.46 4.88 L14.5 6.48 L16.71 7.76 L19.05 8.69 L21.48 9.21 L23.95 9.3 L26.37 8.88 L28.69 7.93 L30.8 6.42 L32.6 4.31M9.54 3.98 L11.15 6.16 L13.06 8.05 L15.2 9.66 L17.53 10.97 L20.03 11.91 L22.64 12.44 L25.3 12.5 L27.94 12.04 L30.47 11.01 L32.79 9.37M8.22 4.79 L9.6 7.17 L11.32 9.31 L13.32 11.23 L15.58 12.89 L18.07 14.23 L20.75 15.2 L23.57 15.74 L26.45 15.78 L29.32 15.28 L32.09 14.17M6.76 5.36 L7.86 7.88 L9.34 10.23 L11.14 12.41 L13.26 14.38 L15.66 16.1 L18.33 17.5 L21.22 18.51 L24.27 19.07 L27.4 19.12 L30.53 18.58M5.18 5.66 L5.97 8.28 L7.16 10.78 L8.71 13.17 L10.62 15.42 L12.87 17.47 L15.45 19.27 L18.32 20.74 L21.44 21.81 L24.74 22.42 L28.15 22.47M3.54 5.7 L3.98 8.35 L4.84 10.94 L6.09 13.49 L7.73 15.97 L9.76 18.31 L12.18 20.47 L14.96 22.36 L18.06 23.93 L21.43 25.08 L25.01 25.74M1.87 5.46 L1.94 8.09 L2.45 10.72 L3.36 13.37 L4.68 16.01 L6.43 18.59 L8.61 21.06 L11.21 23.34 L14.21 25.37 L17.55 27.05 L21.2 28.3M0.23 4.97 L-0.07 7.51 L0.05 10.11 L0.59 12.8 L1.55 15.55 L2.97 18.31 L4.85 21.03 L7.19 23.65 L9.99 26.09 L13.22 28.26 L16.83 30.08M-1.35 4.22 L-2.02 6.62 L-2.28 9.14 L-2.14 11.81 L-1.57 14.59 L-0.54 17.47 L0.98 20.38 L3 23.27 L5.52 26.06 L8.53 28.68 L12.01 31.04M-2.81 3.24 L-3.85 5.44 L-4.5 7.83 L-4.76 10.41 L-4.6 13.17 L-3.99 16.09 L-2.87 19.12 L-1.24 22.22 L0.93 25.3 L3.64 28.31 L6.88 31.13M-4.13 2.05 L-5.51 4.02 L-6.53 6.22 L-7.2 8.65 L-7.47 11.32 L-7.29 14.22 L-6.62 17.3 L-5.42 20.52 L-3.67 23.83 L-1.34 27.14 L1.57 30.37M-5.25 0.7 L-6.95 2.39 L-8.33 4.34 L-9.39 6.58 L-10.08 9.1 L-10.35 11.9 L-10.14 14.96 L-9.42 18.23 L-8.14 21.67 L-6.26 25.21 L-3.77 28.77M-6.16 -0.79 L-8.14 0.59 L-9.84 2.26 L-11.27 4.24 L-12.37 6.56 L-13.08 9.2 L-13.36 12.16 L-13.14 15.4 L-12.37 18.9 L-11 22.58 L-9 26.38M-6.83 -2.37 L-9.03 -1.33 L-11.02 0.02 L-12.79 1.72 L-14.27 3.77 L-15.42 6.19 L-16.17 8.98 L-16.46 12.12 L-16.23 15.58 L-15.41 19.31 L-13.97 23.26M-7.24 -4 L-9.62 -3.31 L-11.84 -2.3 L-13.9 -0.94 L-15.74 0.81 L-17.3 2.96 L-18.51 5.51 L-19.31 8.47 L-19.63 11.81 L-19.39 15.5 L-18.54 19.5M-7.37 -5.64 L-9.87 -5.31 L-12.28 -4.65 L-14.59 -3.64 L-16.73 -2.24 L-18.66 -0.42 L-20.31 1.84 L-21.61 4.55 L-22.47 7.69 L-22.82 11.25 L-22.6 15.2M-7.24 -7.24 L-9.79 -7.26 L-12.33 -6.97 L-14.82 -6.33 L-17.22 -5.3 L-19.48 -3.84 L-21.52 -1.93 L-23.28 0.46 L-24.67 3.33 L-25.62 6.68 L-26.02 10.48M-6.82 -8.76 L-9.38 -9.11 L-11.98 -9.18 L-14.59 -8.92 L-17.19 -8.28 L-19.72 -7.21 L-22.11 -5.69 L-24.29 -3.67 L-26.18 -1.14 L-27.69 1.9 L-28.73 5.46M-6.15 -10.15 L-8.64 -10.82 L-11.24 -11.24 L-13.92 -11.35 L-16.65 -11.1 L-19.38 -10.45 L-22.06 -9.34 L-24.61 -7.74 L-26.95 -5.62 L-28.99 -2.95 L-30.64 0.28M-5.24 -11.38 L-7.61 -12.34 L-10.13 -13.08 L-12.81 -13.55 L-15.6 -13.69 L-18.48 -13.46 L-21.37 -12.79 L-24.23 -11.64 L-26.96 -9.96 L-29.48 -7.73 L-31.7 -4.91M-4.11 -12.42 L-6.29 -13.62 L-8.69 -14.65 L-11.3 -15.45 L-14.09 -15.98 L-17.03 -16.15 L-20.07 -15.93 L-23.15 -15.26 L-26.21 -14.07 L-29.15 -12.32 L-31.88 -9.98M-2.8 -13.23 L-4.75 -14.63 L-6.96 -15.91 L-9.43 -17.02 L-12.14 -17.89 L-15.07 -18.47 L-18.18 -18.69 L-21.42 -18.49 L-24.72 -17.81 L-28.01 -16.59 L-31.19 -14.78M-1.33 -13.8 L-3 -15.34 L-4.97 -16.83 L-7.24 -18.2 L-9.81 -19.39 L-12.66 -20.34 L-15.76 -20.99 L-19.07 -21.27 L-22.54 -21.1 L-26.08 -20.43 L-29.62 -19.18M0.25 -14.11 L-1.11 -15.74 L-2.79 -17.38 L-4.81 -18.96 L-7.17 -20.42 L-9.87 -21.71 L-12.88 -22.76 L-16.18 -23.49 L-19.72 -23.84 L-23.43 -23.73 L-27.24 -23.08M1.89 -14.14 L0.88 -15.8 L-0.47 -17.54 L-2.19 -19.28 L-4.29 -20.97 L-6.76 -22.55 L-9.61 -23.96 L-12.81 -25.12 L-16.33 -25.96 L-20.12 -26.4 L-24.11 -26.35M3.56 -13.91 L2.91 -15.54 L1.91 -17.32 L0.54 -19.16 L-1.24 -21.01 L-3.43 -22.83 L-6.04 -24.55 L-9.07 -26.1 L-12.48 -27.4 L-16.24 -28.36 L-20.3 -28.91M5.2 -13.41 L4.93 -14.96 L4.31 -16.71 L3.31 -18.59 L1.89 -20.55 L0.03 -22.55 L-2.27 -24.52 L-5.04 -26.4 L-8.26 -28.12 L-11.9 -29.57 L-15.93 -30.69M6.78 -12.66 L6.88 -14.07 L6.65 -15.74 L6.04 -17.6 L5.01 -19.6 L3.54 -21.71 L1.59 -23.87 L-0.85 -26.02 L-3.79 -28.09 L-7.22 -30 L-11.11 -31.64M8.24 -11.68 L8.71 -12.9 L8.87 -14.43 L8.66 -16.2 L8.05 -18.18 L6.99 -20.33 L5.45 -22.62 L3.39 -24.97 L0.8 -27.33 L-2.32 -29.62 L-5.97 -31.74M9.55 -10.5 L10.37 -11.48 L10.9 -12.82 L11.1 -14.44 L10.91 -16.33 L10.29 -18.46 L9.19 -20.79 L7.57 -23.28 L5.39 -25.86 L2.65 -28.45 L-0.66 -30.97M10.68 -9.14 L11.81 -9.85 L12.7 -10.94 L13.29 -12.37 L13.52 -14.11 L13.35 -16.14 L12.71 -18.45 L11.57 -20.99 L9.87 -23.7 L7.58 -26.52 L4.68 -29.38M11.59 -7.65 L12.99 -8.05 L14.21 -8.86 L15.16 -10.03 L15.81 -11.56 L16.09 -13.44 L15.93 -15.65 L15.28 -18.16 L14.09 -20.93 L12.31 -23.89 L9.9 -26.99M12.26 -6.07 L13.89 -6.13 L15.39 -6.62 L16.68 -7.51 L17.72 -8.78 L18.43 -10.43 L18.75 -12.47 L18.61 -14.87 L17.96 -17.61 L16.73 -20.63 L14.87 -23.87M12.67 -4.44 L14.47 -4.14 L16.21 -4.3 L17.8 -4.85 L19.18 -5.82 L20.3 -7.2 L21.08 -9 L21.46 -11.22 L21.36 -13.84 L20.71 -16.82 L19.45 -20.11M12.8 -2.8 L14.73 -2.15 L16.65 -1.95 L18.48 -2.15 L20.18 -2.77 L21.67 -3.82 L22.88 -5.33 L23.75 -7.3 L24.2 -9.72 L24.14 -12.56 L23.5 -15.8M12.66 -1.2 L14.65 -0.2 L16.69 0.37 L18.72 0.54 L20.67 0.29 L22.48 -0.4 L24.09 -1.57 L25.43 -3.22 L26.4 -5.36 L26.93 -7.99 L26.93 -11.08M12.25 0.32 L14.24 1.66 L16.34 2.58 L18.49 3.13 L20.64 3.27 L22.72 2.97 L24.68 2.19 L26.44 0.92 L27.91 -0.88 L29 -3.21 L29.63 -6.06M11.58 1.71 L13.5 3.36 L15.6 4.64 L17.82 5.56 L20.09 6.1 L22.39 6.21 L24.63 5.85 L26.76 4.99 L28.68 3.59 L30.3 1.63 L31.54 -0.88" stroke="#1e1e1e" stroke-width="1.17"/>
<ellipse cx="1.5" cy="-2.12" rx="23.29" ry="18.35" transform="rotate(42 1.5 -2.12)" stroke-width="1.04"/>
<ellipse cx="2.71" cy="-4.22" rx="10.7" ry="9.27" transform="rotate(42 2.71 -4.22)" fill="#fff" stroke-width="1.1"/>
<ellipse cx="2.71" cy="-4.22" rx="9.35" ry="8.07" transform="rotate(42 2.71 -4.22)" fill="#fff" stroke="#777" stroke-width="0.6"/>
<circle cx="3.09" cy="-8.97" r="1.36" fill="#3a3a3a" stroke="none"/>
<path d="M-0.75 -1.66q0.43 -1.36 0.87 0q0.43 1.36 0.87 0q0.43 -1.36 0.87 0q0.43 1.36 0.87 0q0.43 -1.36 0.87 0q0.43 1.36 0.87 0q0.43 -1.36 0.87 0q0.43 1.36 0.87 0" fill="none" stroke="#888" stroke-width="0.4" transform="rotate(8 2.71 -4.22)"/>
</g>
<g transform="translate(135 590) scale(0.26532)" stroke-width="3.02">
<path d="M204 163 L356 134 L346 272 L206 194 Z" fill="#b8b8b8" stroke="none"/>
<ellipse cx="376" cy="205" rx="57" ry="72" transform="rotate(3 376 205)" fill="#fff" stroke-width="3.77"/>
<ellipse cx="381" cy="205" rx="52" ry="68" transform="rotate(3 381 205)" fill="#fff" stroke="#444"/>
<ellipse cx="389" cy="205" rx="43" ry="60" transform="rotate(3 389 205)" fill="#fff" stroke-width="3.39"/>
<path d="M351 129 H392 V145 H351 Z" fill="#a8a8a8" stroke="#777" stroke-width="1.88"/>
<path d="M372 165L386 165M374.05 160.05L383.95 169.95M379 158L379 172M383.95 160.05L374.05 169.95" stroke="#333" stroke-width="2.64"/>
<path d="M383 338 L384.5 226 C384.5 212 400 212 400 226 L402.5 276" fill="#fff" stroke="#444" stroke-width="3.02"/>
<path d="M402.5 280 C406 272 420 272 424 282 L425 304 M425 288 C428 280 440 280 442 293 L443 307 M443 296 C447 290 457 292 458 304 L459 372" stroke="#444"/>
<path d="M383 344 C376 336 364 324 349 321 C342 320 334 322 329.5 326 C336 336 350 350 366 366 C376 376 385 384 391 392" stroke="#444"/>
<path d="M377 120 V66 M362 84 L377 62 L392 84" stroke="#333" stroke-width="3.39"/>
<path d="M501 208 C500 168 488 135 416 134" fill="none" stroke="#444" stroke-width="3.02" stroke-dasharray="9.05 6.78" stroke-linecap="butt"/>
<path d="M425 117 L404 134 L427 146" stroke="#444" stroke-width="3.02"/>
<g transform="rotate(-38 546 98)">
<path d="M530 88 H556 C561 88 564 92 564 97 V101 C564 106 561 110 556 110 H530 Z" fill="#fff" stroke="#333" stroke-width="2.64"/>
<path d="M524 91 H530 V107 H524 Z" fill="#fff" stroke="#333" stroke-width="2.64"/>
</g>
<path d="M524 133 C528 141 531 145 531 149 A7 7 0 0 1 517 149 C517 145 520 141 524 133 Z" fill="#a6a6a6" stroke="none"/>
<path d="M541 153 C545 161 548 165 548 169 A7 7 0 0 1 534 169 C534 165 537 161 541 153 Z" fill="#a6a6a6" stroke="none"/>
<path d="M531 182 C535 190 538 194 538 198 A7 7 0 0 1 524 198 C524 194 527 190 531 182 Z" fill="#a6a6a6" stroke="none"/>
<path d="M482 236 L490 230 H582 L576 236 Z" fill="#ddd" stroke="#555" stroke-width="1.88"/>
<path d="M482 236 H576 V251 H482 Z" fill="#9c9c9c" stroke="#555" stroke-width="1.88"/>
<path d="M576 236 L582 230 V245 L576 251 Z" fill="#666" stroke="#555" stroke-width="1.88"/>
</g>
<text x="231.6" y="602.9" font-size="9.5" fill="#444" stroke="#444" stroke-width="0.5">1</text>
<text x="267.6" y="610.9" font-size="9.5" fill="#444" stroke="#444" stroke-width="0.5">2</text>
<text x="254.2" y="640.6" font-size="9.5" fill="#444" stroke="#444" stroke-width="0.5">3</text>
</g>
<text x="74.9" y="53.1" font-size="24" class="h" textLength="113.7" lengthAdjust="spacingAndGlyphs">Freshness</text>
<text x="74.9" y="75.3" font-size="24" class="h">Fan</text>
<text x="324.5" y="52.8" font-size="21.8" class="h" textLength="116.5" lengthAdjust="spacingAndGlyphs">Quick Guide</text>
<clipPath id="c1"><path d="M27 205H44.6V240H35V228.5H27Z"/></clipPath>
<text x="30" y="236" font-size="33" class="n" clip-path="url(#c1)">1</text>
<text x="62.5" y="231" font-size="21" class="h" textLength="78.5" lengthAdjust="spacingAndGlyphs">Position</text>
<text x="321.8" y="236" font-size="33" class="n" textLength="18.7" lengthAdjust="spacingAndGlyphs">2</text>
<text x="352.2" y="231" font-size="21" class="h" textLength="56.4" lengthAdjust="spacingAndGlyphs">Angle</text>
<text x="318.6" y="430.2" font-size="33" class="n" textLength="18.7" lengthAdjust="spacingAndGlyphs">3</text>
<text x="349.5" y="424.6" font-size="21" class="h" textLength="64.1" lengthAdjust="spacingAndGlyphs">Switch</text>
<text x="31.2" y="620" font-size="33" class="n" textLength="20.4" lengthAdjust="spacingAndGlyphs">4</text>
<text x="61.8" y="615.3" font-size="21" class="h" textLength="74.6" lengthAdjust="spacingAndGlyphs">Essence</text>
<text x="322" y="614.6" font-size="21" class="h" textLength="76.5" lengthAdjust="spacingAndGlyphs">Caution</text>
<text x="317" y="358.2" font-size="10.4" class="b" textLength="242.5" lengthAdjust="spacingAndGlyphs">• To adjust the angle, make sure the product is turned off.</text>
<text x="317" y="370.3" font-size="10.4" class="b" textLength="238.2" lengthAdjust="spacingAndGlyphs">• Rotate the fan head up or down to desired position.</text>
<text x="317" y="554.9" font-size="10.4" class="b" textLength="192.6" lengthAdjust="spacingAndGlyphs">• Use the rotary knob to regulate the speed.</text>
<text x="317" y="566.3" font-size="10.4" class="b" textLength="171.3" lengthAdjust="spacingAndGlyphs">• Turn the knob to o to turn the fan off.</text>
<text x="172.7" y="425" font-size="10.4" class="b g" textLength="92.7" lengthAdjust="spacingAndGlyphs">Hanging keyhole slot</text>
<text x="209" y="501" font-size="10.4" class="b g" textLength="20.0" lengthAdjust="spacingAndGlyphs">Base</text>
<text x="123.5" y="559" font-size="10.4" class="b g" textLength="19.0" lengthAdjust="spacingAndGlyphs">Wall</text>
<text x="242.5" y="559" font-size="10.4" class="b g" textLength="18.5" lengthAdjust="spacingAndGlyphs">Wall</text>
<text x="30.5" y="720.7" font-size="10.4" class="b" textLength="255.5" lengthAdjust="spacingAndGlyphs">• While the fan is off, press the circle on the front of the fan</text>
<text x="37.9" y="733.1" font-size="10.4" class="b" textLength="113.4" lengthAdjust="spacingAndGlyphs">to open the compartment.</text>
<text x="30.5" y="746.3" font-size="10.4" class="b" textLength="256.3" lengthAdjust="spacingAndGlyphs">• Place a few drops of essential oil on the sponge and return</text>
<text x="37.9" y="759.2" font-size="10.4" class="b" textLength="97.8" lengthAdjust="spacingAndGlyphs">it to the compartment.</text>
<text x="317.3" y="632.4" font-size="8.8" class="b" textLength="253.8" lengthAdjust="spacingAndGlyphs">• Do not place your hands or any object near the vents while the</text>
<text x="321.7" y="640.6" font-size="8.8" class="b">product is on.</text>
<text x="317.3" y="649.6" font-size="8.8" class="b" textLength="142.2" lengthAdjust="spacingAndGlyphs">• Clean the product with a dry cloth.</text>
<text x="317.3" y="659.8" font-size="8.8" class="b" textLength="156.3" lengthAdjust="spacingAndGlyphs">• Avoid all contact with water or liquids.</text>
<text x="317.3" y="669.5" font-size="8.8" class="b" textLength="257.1" lengthAdjust="spacingAndGlyphs">• Use a power supply of 127 V and 60 Hz to prevent a short circuit.</text>
<text x="317.3" y="679.7" font-size="8.8" class="b" textLength="193.1" lengthAdjust="spacingAndGlyphs">• Do not plug in if you notice damage to the cord.</text>
<text x="317.3" y="689.6" font-size="8.8" class="b" textLength="251.6" lengthAdjust="spacingAndGlyphs">• To disconnect the product, pull the plug. Do not pull the cable.</text>
<text x="317.3" y="700.7" font-size="8.8" class="b" textLength="231.7" lengthAdjust="spacingAndGlyphs">• Always unplug before moving. Wait for the blades to stop</text>
<text x="321.7" y="709.9" font-size="8.8" class="b" textLength="111.3" lengthAdjust="spacingAndGlyphs">spinning before relocating it.</text>
<text x="317.3" y="719.4" font-size="8.8" class="b" textLength="245.4" lengthAdjust="spacingAndGlyphs">• Not to be handled by children or without supervision from a</text>
<text x="321.7" y="729.8" font-size="8.8" class="b" textLength="69.6" lengthAdjust="spacingAndGlyphs">responsible party.</text>
<text x="318.7" y="746.7" font-size="8.8" class="b" textLength="207.9" lengthAdjust="spacingAndGlyphs">Electrical characteristics: 127 V ~ 60 Hz 0.45 A 33 W.</text>
<text x="318.7" y="757.9" font-size="8.8" class="b" textLength="110.7" lengthAdjust="spacingAndGlyphs">Power consumption: 33 Wh.</text>
</svg>
</body></html>
